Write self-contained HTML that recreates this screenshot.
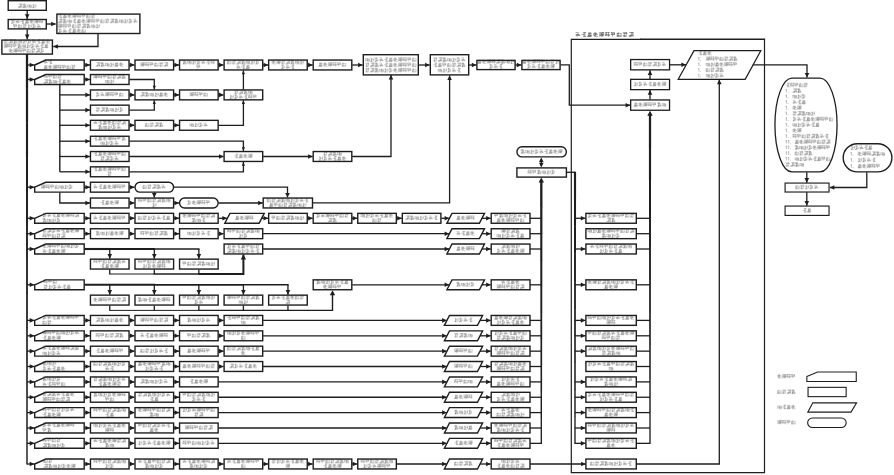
<!DOCTYPE html>
<html lang="zh"><head><meta charset="utf-8"><title>Production process flow chart</title>
<style>
html,body{margin:0;padding:0;background:#fff;width:894px;height:475px;overflow:hidden;font-family:"Liberation Sans",sans-serif}
svg{display:block}
#chart rect,#chart polygon{fill:#fff;stroke:#1e1e1e}
#chart polyline{stroke:#1e1e1e}
#chart polygon.a{fill:#1e1e1e;stroke:none}
#chart g.b use{stroke-opacity:.55}
#chart path.d{fill:none;stroke:#333;stroke-width:.6;stroke-opacity:.55}
#chart use{fill:none;stroke:#333;stroke-width:.7;stroke-opacity:.34}
svg{filter:blur(.3px)}
</style></head><body>
<svg width="894" height="475" viewBox="0 0 894 475">
<defs><g class="t"><path id="g0" d="M0.1 3.0H4.3M0.1 3.9H2.8M0.6 0.3H4.3M2.3 0.0V3.4M3.2 0.0V3.4M4.0 0.0V4.2M1.2 4.1L2.4 2.2"/><path id="g1" d="M0.1 3.9H3.6M1.6 2.1H4.3M0.6 1.2H2.8M4.0 0.0V3.4M1.4 0.0V4.2M1.2 4.1L1.8 2.2"/><path id="g2" d="M1.6 3.9H4.3M0.1 2.1H2.8M1.6 0.3H4.3M3.2 0.0V4.2M2.3 0.0V4.2"/><path id="g3" d="M0.1 1.2H2.8M0.1 0.3H4.3M0.1 2.1H4.3M0.1 3.0H4.3M3.2 0.0V4.2M2.3 0.8V4.2M4.0 0.0V2.6M0.3 4.1L1.8 2.2"/><path id="g4" d="M0.1 1.2H4.3M0.1 3.9H4.3M0.1 3.0H3.6M0.4 0.8V4.2M1.4 0.0V3.4M4.0 1.6V3.4"/><path id="g5" d="M0.1 3.9H4.3M0.1 0.3H2.8M0.6 3.0H4.3M0.1 1.2H2.8M2.3 0.0V2.6M1.4 0.0V4.2M3.2 0.8V3.4M1.2 4.1L1.8 2.2"/><path id="g6" d="M0.6 0.3H2.8M1.6 3.0H3.6M0.1 3.9H2.8M0.6 1.2H2.8M1.4 0.0V4.2M3.2 0.8V3.4M0.3 4.1L2.4 2.2"/><path id="g7" d="M0.1 3.9H3.6M0.6 3.0H4.3M0.6 1.2H3.6M1.4 0.0V4.2M3.2 0.0V4.2M2.3 0.0V4.2M0.3 4.1L1.8 1.5"/><path id="g8" d="M0.6 0.3H4.3M0.1 3.0H4.3M0.6 2.1H4.3M3.2 0.0V4.2M1.4 0.0V2.6M0.4 0.0V3.4"/><path id="g9" d="M0.6 1.2H4.3M0.1 3.0H2.8M0.6 3.9H2.8M0.1 0.3H3.6M1.4 0.8V4.2M3.2 0.0V4.2"/><path id="g10" d="M1.6 3.9H3.6M0.1 1.2H4.3M0.1 3.0H4.3M1.6 2.1H4.3M4.0 1.6V4.2M0.4 0.8V3.4M2.3 0.8V3.4"/><path id="g11" d="M0.1 2.1H2.8M0.1 3.0H4.3M0.1 0.3H2.8M3.2 1.6V3.4M1.4 1.6V4.2M2.3 0.8V2.6"/><path id="g12" d="M1.6 3.9H4.3M1.6 2.1H4.3M0.1 3.0H2.8M0.6 1.2H3.6M1.4 0.0V4.2M2.3 0.0V2.6M0.4 0.8V2.6"/><path id="g13" d="M0.1 2.1H3.6M0.1 0.3H3.6M1.6 1.2H3.6M1.4 0.8V2.6M3.2 0.8V2.6M0.4 0.0V2.6M1.2 4.1L1.8 2.2"/></g></defs>
<title>生产工艺流程图</title>
<desc>生产指令 → 物料准备 → 框体(FRAME)、液路配管(TUBE)、配线(ELEC)、RTDB、CEL、FF、SPEC、SP、RP1、RP2、HOST、PMT、CR2、CFS、RPS、BF、COVER 各模块 → 调试检查 → 粘贴追溯标识 → 中间品（模块）检验 → 放入模块货架 → 总成（框体与各模块）→ 调试 → 整机检验 → 包装及标识 → 入库。图例：模块名称、组装活动、调试活动、检验活动</desc>
<rect x="0" y="0" width="894" height="475" fill="#fff" stroke="none"/>
<g id="chart">
<rect x="8.20" y="0.70" width="38.10" height="9.60" stroke-width="1.4"/>
<use href="#g0" x="17.89" y="3.80"/><use href="#g5" x="22.57" y="3.80"/><use href="#g10" x="27.25" y="3.80"/><use href="#g1" x="31.93" y="3.80"/>
<polyline points="27.20,10.50 27.20,18.90" stroke-width="1.3" fill="none"/>
<polygon class="a" points="27.20,18.90 24.90,14.30 29.50,14.30"/>
<rect x="8.20" y="19.50" width="38.10" height="9.40" stroke-width="1.4"/>
<use href="#g6" x="10.87" y="19.35"/><use href="#g11" x="15.55" y="19.35"/><use href="#g2" x="20.23" y="19.35"/><use href="#g7" x="24.91" y="19.35"/><use href="#g12" x="29.59" y="19.35"/><use href="#g3" x="34.27" y="19.35"/><use href="#g8" x="38.95" y="19.35"/>
<use href="#g13" x="13.21" y="24.05"/><use href="#g4" x="17.89" y="24.05"/><use href="#g9" x="22.57" y="24.05"/><use href="#g1" x="27.25" y="24.05"/><use href="#g6" x="31.93" y="24.05"/><use href="#g11" x="36.61" y="24.05"/>
<polyline points="46.50,24.00 55.70,24.00" stroke-width="1.3" fill="none"/>
<polygon class="a" points="55.70,24.00 51.10,21.70 51.10,26.30"/>
<rect x="56.90" y="14.10" width="83.00" height="19.40" stroke-width="1.4"/>
<use href="#g2" x="58.00" y="13.80"/><use href="#g7" x="62.70" y="13.80"/><use href="#g12" x="67.40" y="13.80"/><use href="#g3" x="72.10" y="13.80"/><use href="#g8" x="76.80" y="13.80"/><use href="#g13" x="81.50" y="13.80"/><use href="#g4" x="86.20" y="13.80"/><use href="#g9" x="90.90" y="13.80"/>
<use href="#g0" x="58.00" y="18.90"/><use href="#g5" x="62.70" y="18.90"/><use href="#g10" x="67.40" y="18.90"/><use href="#g2" x="72.10" y="18.90"/><use href="#g7" x="76.80" y="18.90"/><use href="#g12" x="81.50" y="18.90"/><use href="#g3" x="86.20" y="18.90"/><use href="#g8" x="90.90" y="18.90"/><use href="#g13" x="95.60" y="18.90"/><use href="#g4" x="100.30" y="18.90"/><use href="#g9" x="105.00" y="18.90"/><use href="#g0" x="109.70" y="18.90"/><use href="#g5" x="114.40" y="18.90"/><use href="#g10" x="119.10" y="18.90"/><use href="#g1" x="123.80" y="18.90"/><use href="#g6" x="128.50" y="18.90"/><use href="#g11" x="133.20" y="18.90"/>
<use href="#g3" x="58.00" y="23.90"/><use href="#g8" x="62.70" y="23.90"/><use href="#g13" x="67.40" y="23.90"/><use href="#g4" x="72.10" y="23.90"/><use href="#g9" x="76.80" y="23.90"/><use href="#g0" x="81.50" y="23.90"/><use href="#g5" x="86.20" y="23.90"/><use href="#g10" x="90.90" y="23.90"/><use href="#g1" x="95.60" y="23.90"/>
<use href="#g6" x="58.00" y="28.70"/><use href="#g11" x="62.70" y="28.70"/><use href="#g2" x="67.40" y="28.70"/><use href="#g7" x="72.10" y="28.70"/><use href="#g12" x="76.80" y="28.70"/><use href="#g4" x="81.50" y="28.70"/>
<polyline points="27.20,29.20 27.20,39.20" stroke-width="1.3" fill="none"/>
<polygon class="a" points="27.20,39.20 24.90,34.60 29.50,34.60"/>
<rect x="1.90" y="40.10" width="50.50" height="14.00" stroke-width="1.4"/>
<use href="#g9" x="3.70" y="39.20"/><use href="#g0" x="8.38" y="39.20"/><use href="#g5" x="13.06" y="39.20"/><use href="#g10" x="17.74" y="39.20"/><use href="#g1" x="22.42" y="39.20"/><use href="#g6" x="27.10" y="39.20"/><use href="#g11" x="31.78" y="39.20"/><use href="#g2" x="36.46" y="39.20"/><use href="#g7" x="41.14" y="39.20"/><use href="#g12" x="45.82" y="39.20"/>
<use href="#g3" x="3.70" y="43.80"/><use href="#g8" x="8.20" y="43.80"/><use href="#g13" x="12.70" y="43.80"/><use href="#g5" x="17.20" y="43.80"/><use href="#g10" x="21.70" y="43.80"/><use href="#g1" x="26.20" y="43.80"/><use href="#g6" x="30.70" y="43.80"/><use href="#g11" x="35.20" y="43.80"/><use href="#g2" x="39.70" y="43.80"/><use href="#g7" x="44.20" y="43.80"/>
<use href="#g12" x="8.80" y="48.50"/><use href="#g3" x="13.25" y="48.50"/><use href="#g8" x="17.70" y="48.50"/><use href="#g13" x="22.15" y="48.50"/><use href="#g4" x="26.60" y="48.50"/><use href="#g9" x="31.05" y="48.50"/><use href="#g0" x="35.50" y="48.50"/><use href="#g6" x="39.95" y="48.50"/>
<polyline points="98.00,33.50 98.00,46.50 53.30,46.50" stroke-width="1.3" fill="none"/>
<polygon class="a" points="53.30,46.50 57.90,44.20 57.90,48.80"/>
<polyline points="27.00,54.00 27.00,88.62" stroke-width="2.26" fill="none"/>
<polyline points="27.00,88.22 27.00,122.83" stroke-width="2.19" fill="none"/>
<polyline points="27.00,122.43 27.00,157.05" stroke-width="2.11" fill="none"/>
<polyline points="27.00,156.65 27.00,191.27" stroke-width="2.04" fill="none"/>
<polyline points="27.00,190.87 27.00,225.48" stroke-width="1.96" fill="none"/>
<polyline points="27.00,225.08 27.00,259.70" stroke-width="1.89" fill="none"/>
<polyline points="27.00,259.30 27.00,293.92" stroke-width="1.81" fill="none"/>
<polyline points="27.00,293.52 27.00,328.13" stroke-width="1.74" fill="none"/>
<polyline points="27.00,327.73 27.00,362.35" stroke-width="1.66" fill="none"/>
<polyline points="27.00,361.95 27.00,396.57" stroke-width="1.59" fill="none"/>
<polyline points="27.00,396.17 27.00,430.78" stroke-width="1.51" fill="none"/>
<polyline points="27.00,430.38 27.00,464.60" stroke-width="1.44" fill="none"/>
<polyline points="27.00,65.00 34.30,65.00" stroke-width="1.3" fill="none"/>
<polygon class="a" points="34.30,65.00 29.70,62.70 29.70,67.30"/>
<polygon points="34.70,65.00 45.80,60.05 84.20,60.05 84.20,69.95 34.70,69.95" stroke-width="1.4"/>
<use href="#g11" x="43.60" y="59.65"/><use href="#g2" x="48.20" y="59.65"/>
<use href="#g7" x="43.60" y="64.95"/><use href="#g12" x="48.20" y="64.95"/><use href="#g3" x="52.80" y="64.95"/><use href="#g8" x="57.40" y="64.95"/><use href="#g13" x="62.00" y="64.95"/><use href="#g4" x="66.60" y="64.95"/><use href="#g9" x="71.20" y="64.95"/>
<polyline points="84.60,65.00 89.95,65.00" stroke-width="1.3" fill="none"/>
<polygon class="a" points="89.95,65.00 85.35,62.70 85.35,67.30"/>
<rect x="90.45" y="60.05" width="38.60" height="9.90" stroke-width="1.4"/>
<use href="#g0" x="95.71" y="62.40"/><use href="#g5" x="100.39" y="62.40"/><use href="#g10" x="105.07" y="62.40"/><use href="#g1" x="109.75" y="62.40"/><use href="#g7" x="114.43" y="62.40"/><use href="#g12" x="119.11" y="62.40"/>
<rect x="135.00" y="60.05" width="38.60" height="9.90" stroke-width="1.4"/>
<use href="#g3" x="140.26" y="62.40"/><use href="#g8" x="144.94" y="62.40"/><use href="#g13" x="149.62" y="62.40"/><use href="#g4" x="154.30" y="62.40"/><use href="#g9" x="158.98" y="62.40"/><use href="#g0" x="163.66" y="62.40"/>
<rect x="179.55" y="60.05" width="38.60" height="9.90" stroke-width="1.4"/>
<use href="#g5" x="182.47" y="60.02"/><use href="#g10" x="187.15" y="60.02"/><use href="#g1" x="191.83" y="60.02"/><use href="#g6" x="196.51" y="60.02"/><use href="#g11" x="201.19" y="60.02"/><use href="#g2" x="205.87" y="60.02"/><use href="#g8" x="210.55" y="60.02"/>
<use href="#g13" x="196.51" y="64.78"/>
<rect x="224.10" y="60.05" width="38.60" height="9.90" stroke-width="1.4"/>
<use href="#g4" x="227.02" y="60.02"/><use href="#g9" x="231.70" y="60.02"/><use href="#g0" x="236.38" y="60.02"/><use href="#g5" x="241.06" y="60.02"/><use href="#g10" x="245.74" y="60.02"/><use href="#g1" x="250.42" y="60.02"/><use href="#g6" x="255.10" y="60.02"/>
<use href="#g11" x="236.38" y="64.78"/><use href="#g2" x="241.06" y="64.78"/><use href="#g7" x="245.74" y="64.78"/>
<rect x="268.65" y="60.05" width="38.60" height="9.90" stroke-width="1.4"/>
<use href="#g12" x="271.57" y="60.02"/><use href="#g3" x="276.25" y="60.02"/><use href="#g9" x="280.93" y="60.02"/><use href="#g0" x="285.61" y="60.02"/><use href="#g5" x="290.29" y="60.02"/><use href="#g10" x="294.97" y="60.02"/><use href="#g1" x="299.65" y="60.02"/>
<use href="#g6" x="280.93" y="64.78"/><use href="#g11" x="285.61" y="64.78"/><use href="#g2" x="290.29" y="64.78"/>
<rect x="313.20" y="60.05" width="38.60" height="9.90" stroke-width="1.4"/>
<use href="#g7" x="318.46" y="62.40"/><use href="#g12" x="323.14" y="62.40"/><use href="#g3" x="327.82" y="62.40"/><use href="#g8" x="332.50" y="62.40"/><use href="#g13" x="337.18" y="62.40"/><use href="#g4" x="341.86" y="62.40"/>
<polyline points="129.45,65.00 134.50,65.00" stroke-width="1.3" fill="none"/>
<polygon class="a" points="134.50,65.00 129.90,62.70 129.90,67.30"/>
<polyline points="174.00,65.00 179.05,65.00" stroke-width="1.3" fill="none"/>
<polygon class="a" points="179.05,65.00 174.45,62.70 174.45,67.30"/>
<polyline points="218.55,65.00 223.60,65.00" stroke-width="1.3" fill="none"/>
<polygon class="a" points="223.60,65.00 219.00,62.70 219.00,67.30"/>
<polyline points="263.10,65.00 268.15,65.00" stroke-width="1.3" fill="none"/>
<polygon class="a" points="268.15,65.00 263.55,62.70 263.55,67.30"/>
<polyline points="307.65,65.00 312.70,65.00" stroke-width="1.3" fill="none"/>
<polygon class="a" points="312.70,65.00 308.10,62.70 308.10,67.30"/>
<rect x="363.30" y="54.70" width="55.00" height="20.20" stroke-width="1.4"/>
<use href="#g10" x="365.20" y="57.50"/><use href="#g1" x="369.88" y="57.50"/><use href="#g6" x="374.56" y="57.50"/><use href="#g11" x="379.24" y="57.50"/><use href="#g2" x="383.92" y="57.50"/><use href="#g7" x="388.60" y="57.50"/><use href="#g12" x="393.28" y="57.50"/><use href="#g3" x="397.96" y="57.50"/><use href="#g8" x="402.64" y="57.50"/><use href="#g13" x="407.32" y="57.50"/><use href="#g4" x="412.00" y="57.50"/>
<use href="#g9" x="365.20" y="62.80"/><use href="#g0" x="369.88" y="62.80"/><use href="#g5" x="374.56" y="62.80"/><use href="#g11" x="379.24" y="62.80"/><use href="#g2" x="383.92" y="62.80"/><use href="#g7" x="388.60" y="62.80"/><use href="#g12" x="393.28" y="62.80"/><use href="#g3" x="397.96" y="62.80"/><use href="#g8" x="402.64" y="62.80"/><use href="#g13" x="407.32" y="62.80"/><use href="#g4" x="412.00" y="62.80"/>
<use href="#g9" x="365.20" y="68.10"/><use href="#g0" x="369.88" y="68.10"/><use href="#g5" x="374.56" y="68.10"/><use href="#g10" x="379.24" y="68.10"/><use href="#g1" x="383.92" y="68.10"/><use href="#g6" x="388.60" y="68.10"/><use href="#g12" x="393.28" y="68.10"/><use href="#g3" x="397.96" y="68.10"/><use href="#g8" x="402.64" y="68.10"/><use href="#g13" x="407.32" y="68.10"/><use href="#g4" x="412.00" y="68.10"/>
<polyline points="352.20,65.00 362.70,65.00" stroke-width="1.3" fill="none"/>
<polygon class="a" points="362.70,65.00 358.10,62.70 358.10,67.30"/>
<rect x="430.30" y="54.70" width="38.40" height="20.20" stroke-width="1.4"/>
<use href="#g9" x="433.12" y="57.50"/><use href="#g0" x="437.80" y="57.50"/><use href="#g5" x="442.48" y="57.50"/><use href="#g10" x="447.16" y="57.50"/><use href="#g1" x="451.84" y="57.50"/><use href="#g6" x="456.52" y="57.50"/><use href="#g11" x="461.20" y="57.50"/>
<use href="#g2" x="433.12" y="62.80"/><use href="#g7" x="437.80" y="62.80"/><use href="#g13" x="442.48" y="62.80"/><use href="#g4" x="447.16" y="62.80"/><use href="#g9" x="451.84" y="62.80"/><use href="#g0" x="456.52" y="62.80"/><use href="#g5" x="461.20" y="62.80"/>
<use href="#g10" x="437.80" y="68.10"/><use href="#g1" x="442.48" y="68.10"/><use href="#g6" x="447.16" y="68.10"/><use href="#g11" x="451.84" y="68.10"/><use href="#g2" x="456.52" y="68.10"/>
<polyline points="418.50,65.00 429.70,65.00" stroke-width="1.3" fill="none"/>
<polygon class="a" points="429.70,65.00 425.10,62.70 425.10,67.30"/>
<rect x="476.90" y="60.40" width="38.20" height="9.20" stroke-width="1.4"/>
<use href="#g7" x="477.28" y="59.43"/><use href="#g12" x="481.96" y="59.43"/><use href="#g3" x="486.64" y="59.43"/><use href="#g8" x="491.32" y="59.43"/><use href="#g0" x="496.00" y="59.43"/><use href="#g5" x="500.68" y="59.43"/><use href="#g10" x="505.36" y="59.43"/><use href="#g1" x="510.04" y="59.43"/>
<use href="#g6" x="488.98" y="64.18"/><use href="#g11" x="493.66" y="64.18"/><use href="#g2" x="498.34" y="64.18"/>
<polyline points="469.00,65.00 476.40,65.00" stroke-width="1.3" fill="none"/>
<polygon class="a" points="476.40,65.00 471.80,62.70 471.80,67.30"/>
<rect x="521.90" y="60.40" width="38.20" height="9.20" stroke-width="1.4"/>
<use href="#g7" x="522.28" y="59.43"/><use href="#g12" x="526.96" y="59.43"/><use href="#g3" x="531.64" y="59.43"/><use href="#g8" x="536.32" y="59.43"/><use href="#g13" x="541.00" y="59.43"/><use href="#g4" x="545.68" y="59.43"/><use href="#g9" x="550.36" y="59.43"/><use href="#g1" x="555.04" y="59.43"/>
<use href="#g6" x="526.96" y="64.18"/><use href="#g11" x="531.64" y="64.18"/><use href="#g2" x="536.32" y="64.18"/><use href="#g7" x="541.00" y="64.18"/><use href="#g12" x="545.68" y="64.18"/><use href="#g3" x="550.36" y="64.18"/>
<polyline points="515.50,65.00 521.40,65.00" stroke-width="1.3" fill="none"/>
<polygon class="a" points="521.40,65.00 516.80,62.70 516.80,67.30"/>
<polyline points="560.50,64.80 569.30,64.80 569.30,105.20 630.20,105.20" stroke-width="1.3" fill="none"/>
<polygon class="a" points="630.20,105.20 625.60,102.90 625.60,107.50"/>
<polyline points="27.00,79.50 34.30,79.50" stroke-width="1.3" fill="none"/>
<polygon class="a" points="34.30,79.50 29.70,77.20 29.70,81.80"/>
<polygon points="34.70,79.50 45.80,74.55 84.20,74.55 84.20,84.45 34.70,84.45" stroke-width="1.4"/>
<use href="#g8" x="43.60" y="74.15"/><use href="#g13" x="48.20" y="74.15"/><use href="#g4" x="52.80" y="74.15"/><use href="#g9" x="57.40" y="74.15"/>
<use href="#g0" x="43.60" y="79.45"/><use href="#g5" x="48.20" y="79.45"/><use href="#g10" x="52.80" y="79.45"/><use href="#g2" x="57.40" y="79.45"/><use href="#g7" x="62.00" y="79.45"/><use href="#g12" x="66.60" y="79.45"/>
<polyline points="84.60,79.50 89.95,79.50" stroke-width="1.3" fill="none"/>
<polygon class="a" points="89.95,79.50 85.35,77.20 85.35,81.80"/>
<polyline points="59.80,84.40 59.80,171.80" stroke-width="1.4" fill="none"/>
<polyline points="59.80,94.90 89.95,94.90" stroke-width="1.3" fill="none"/>
<polygon class="a" points="89.95,94.90 85.35,92.60 85.35,97.20"/>
<polyline points="59.80,110.10 89.95,110.10" stroke-width="1.3" fill="none"/>
<polygon class="a" points="89.95,110.10 85.35,107.80 85.35,112.40"/>
<polyline points="59.80,125.30 89.95,125.30" stroke-width="1.3" fill="none"/>
<polygon class="a" points="89.95,125.30 85.35,123.00 85.35,127.60"/>
<polyline points="59.80,141.20 89.95,141.20" stroke-width="1.3" fill="none"/>
<polygon class="a" points="89.95,141.20 85.35,138.90 85.35,143.50"/>
<polyline points="59.80,156.50 89.95,156.50" stroke-width="1.3" fill="none"/>
<polygon class="a" points="89.95,156.50 85.35,154.20 85.35,158.80"/>
<polyline points="59.80,171.80 89.95,171.80" stroke-width="1.3" fill="none"/>
<polygon class="a" points="89.95,171.80 85.35,169.50 85.35,174.10"/>
<rect x="90.45" y="74.55" width="38.60" height="9.90" stroke-width="1.4"/>
<use href="#g3" x="93.37" y="74.53"/><use href="#g8" x="98.05" y="74.53"/><use href="#g13" x="102.73" y="74.53"/><use href="#g4" x="107.41" y="74.53"/><use href="#g9" x="112.09" y="74.53"/><use href="#g0" x="116.77" y="74.53"/><use href="#g5" x="121.45" y="74.53"/>
<use href="#g10" x="105.07" y="79.28"/><use href="#g1" x="109.75" y="79.28"/>
<rect x="90.45" y="89.95" width="38.60" height="9.90" stroke-width="1.4"/>
<use href="#g6" x="95.71" y="92.30"/><use href="#g11" x="100.39" y="92.30"/><use href="#g3" x="105.07" y="92.30"/><use href="#g8" x="109.75" y="92.30"/><use href="#g13" x="114.43" y="92.30"/><use href="#g4" x="119.11" y="92.30"/>
<rect x="90.45" y="105.15" width="38.60" height="9.90" stroke-width="1.4"/>
<use href="#g9" x="95.71" y="107.50"/><use href="#g0" x="100.39" y="107.50"/><use href="#g5" x="105.07" y="107.50"/><use href="#g10" x="109.75" y="107.50"/><use href="#g1" x="114.43" y="107.50"/><use href="#g6" x="119.11" y="107.50"/>
<rect x="90.45" y="120.35" width="38.60" height="9.90" stroke-width="1.4"/>
<use href="#g11" x="93.37" y="120.32"/><use href="#g2" x="98.05" y="120.32"/><use href="#g7" x="102.73" y="120.32"/><use href="#g12" x="107.41" y="120.32"/><use href="#g4" x="112.09" y="120.32"/><use href="#g9" x="116.77" y="120.32"/><use href="#g0" x="121.45" y="120.32"/>
<use href="#g5" x="98.05" y="125.07"/><use href="#g10" x="102.73" y="125.07"/><use href="#g1" x="107.41" y="125.07"/><use href="#g6" x="112.09" y="125.07"/><use href="#g11" x="116.77" y="125.07"/>
<rect x="90.45" y="136.25" width="38.60" height="9.90" stroke-width="1.4"/>
<use href="#g2" x="93.37" y="136.22"/><use href="#g7" x="98.05" y="136.22"/><use href="#g12" x="102.73" y="136.22"/><use href="#g3" x="107.41" y="136.22"/><use href="#g8" x="112.09" y="136.22"/><use href="#g13" x="116.77" y="136.22"/><use href="#g5" x="121.45" y="136.22"/>
<use href="#g10" x="100.39" y="140.97"/><use href="#g1" x="105.07" y="140.97"/><use href="#g6" x="109.75" y="140.97"/><use href="#g11" x="114.43" y="140.97"/>
<rect x="90.45" y="151.55" width="38.60" height="9.90" stroke-width="1.4"/>
<use href="#g2" x="93.37" y="151.53"/><use href="#g7" x="98.05" y="151.53"/><use href="#g12" x="102.73" y="151.53"/><use href="#g3" x="107.41" y="151.53"/><use href="#g8" x="112.09" y="151.53"/><use href="#g13" x="116.77" y="151.53"/><use href="#g4" x="121.45" y="151.53"/>
<use href="#g9" x="100.39" y="156.28"/><use href="#g0" x="105.07" y="156.28"/><use href="#g6" x="109.75" y="156.28"/><use href="#g11" x="114.43" y="156.28"/>
<rect x="90.45" y="166.85" width="38.60" height="9.90" stroke-width="1.4"/>
<use href="#g2" x="93.37" y="166.83"/><use href="#g7" x="98.05" y="166.83"/><use href="#g12" x="102.73" y="166.83"/><use href="#g3" x="107.41" y="166.83"/><use href="#g8" x="112.09" y="166.83"/><use href="#g13" x="116.77" y="166.83"/><use href="#g4" x="121.45" y="166.83"/>
<use href="#g9" x="107.41" y="171.58"/>
<rect x="135.00" y="89.95" width="38.60" height="9.90" stroke-width="1.4"/>
<use href="#g0" x="140.26" y="92.30"/><use href="#g5" x="144.94" y="92.30"/><use href="#g10" x="149.62" y="92.30"/><use href="#g1" x="154.30" y="92.30"/><use href="#g7" x="158.98" y="92.30"/><use href="#g12" x="163.66" y="92.30"/>
<rect x="179.55" y="89.95" width="38.60" height="9.90" stroke-width="1.4"/>
<use href="#g3" x="189.49" y="92.30"/><use href="#g8" x="194.17" y="92.30"/><use href="#g13" x="198.85" y="92.30"/><use href="#g4" x="203.53" y="92.30"/>
<rect x="224.10" y="89.95" width="38.60" height="9.90" stroke-width="1.4"/>
<use href="#g9" x="234.04" y="89.93"/><use href="#g0" x="238.72" y="89.93"/><use href="#g5" x="243.40" y="89.93"/><use href="#g10" x="248.08" y="89.93"/>
<use href="#g1" x="229.36" y="94.68"/><use href="#g6" x="234.04" y="94.68"/><use href="#g11" x="238.72" y="94.68"/><use href="#g2" x="243.40" y="94.68"/><use href="#g8" x="248.08" y="94.68"/><use href="#g13" x="252.76" y="94.68"/>
<polyline points="129.45,94.90 134.50,94.90" stroke-width="1.3" fill="none"/>
<polygon class="a" points="134.50,94.90 129.90,92.60 129.90,97.20"/>
<polyline points="174.00,94.90 179.05,94.90" stroke-width="1.3" fill="none"/>
<polygon class="a" points="179.05,94.90 174.45,92.60 174.45,97.20"/>
<polyline points="218.55,94.90 223.60,94.90" stroke-width="1.3" fill="none"/>
<polygon class="a" points="223.60,94.90 219.00,92.60 219.00,97.20"/>
<polyline points="129.45,79.50 154.30,79.50 154.30,89.45" stroke-width="1.3" fill="none"/>
<polygon class="a" points="154.30,89.45 152.70,85.75 155.90,85.75"/>
<polyline points="129.45,110.10 154.30,110.10 154.30,100.35" stroke-width="1.3" fill="none"/>
<polygon class="a" points="154.30,100.35 152.70,104.05 155.90,104.05"/>
<polyline points="243.40,89.55 243.40,70.45" stroke-width="1.3" fill="none"/>
<polygon class="a" points="243.40,70.45 241.80,74.15 245.00,74.15"/>
<rect x="135.00" y="120.35" width="38.60" height="9.90" stroke-width="1.4"/>
<use href="#g4" x="144.94" y="122.70"/><use href="#g9" x="149.62" y="122.70"/><use href="#g0" x="154.30" y="122.70"/><use href="#g5" x="158.98" y="122.70"/>
<rect x="179.55" y="120.35" width="38.60" height="9.90" stroke-width="1.4"/>
<use href="#g10" x="189.49" y="122.70"/><use href="#g1" x="194.17" y="122.70"/><use href="#g6" x="198.85" y="122.70"/><use href="#g11" x="203.53" y="122.70"/>
<polyline points="129.45,125.30 134.50,125.30" stroke-width="1.3" fill="none"/>
<polygon class="a" points="134.50,125.30 129.90,123.00 129.90,127.60"/>
<polyline points="174.00,125.30 179.05,125.30" stroke-width="1.3" fill="none"/>
<polygon class="a" points="179.05,125.30 174.45,123.00 174.45,127.60"/>
<polyline points="218.55,125.30 243.40,125.30 243.40,100.35" stroke-width="1.3" fill="none"/>
<polygon class="a" points="243.40,100.35 241.80,104.05 245.00,104.05"/>
<polyline points="129.45,141.20 243.40,141.20 243.40,151.05" stroke-width="1.3" fill="none"/>
<polygon class="a" points="243.40,151.05 241.80,147.35 245.00,147.35"/>
<rect x="224.10" y="151.55" width="38.60" height="9.90" stroke-width="1.4"/>
<use href="#g2" x="234.04" y="153.90"/><use href="#g7" x="238.72" y="153.90"/><use href="#g12" x="243.40" y="153.90"/><use href="#g3" x="248.08" y="153.90"/>
<rect x="313.20" y="151.55" width="38.60" height="9.90" stroke-width="1.4"/>
<use href="#g9" x="323.14" y="151.53"/><use href="#g0" x="327.82" y="151.53"/><use href="#g5" x="332.50" y="151.53"/><use href="#g10" x="337.18" y="151.53"/>
<use href="#g1" x="318.46" y="156.28"/><use href="#g6" x="323.14" y="156.28"/><use href="#g11" x="327.82" y="156.28"/><use href="#g2" x="332.50" y="156.28"/><use href="#g7" x="337.18" y="156.28"/><use href="#g12" x="341.86" y="156.28"/>
<polyline points="129.45,156.50 223.60,156.50" stroke-width="1.3" fill="none"/>
<polygon class="a" points="223.60,156.50 219.00,154.20 219.00,158.80"/>
<polyline points="263.10,156.50 312.70,156.50" stroke-width="1.3" fill="none"/>
<polygon class="a" points="312.70,156.50 308.10,154.20 308.10,158.80"/>
<polyline points="129.45,171.80 243.40,171.80 243.40,161.95" stroke-width="1.3" fill="none"/>
<polygon class="a" points="243.40,161.95 241.80,165.65 245.00,165.65"/>
<polyline points="352.20,156.50 391.00,156.50 391.00,75.00" stroke-width="1.3" fill="none"/>
<polygon class="a" points="391.00,75.00 388.70,79.60 393.30,79.60"/>
<polyline points="27.00,187.20 34.30,187.20" stroke-width="1.3" fill="none"/>
<polygon class="a" points="34.30,187.20 29.70,184.90 29.70,189.50"/>
<polygon points="34.70,187.20 45.80,182.25 84.20,182.25 84.20,192.15 34.70,192.15" stroke-width="1.4"/>
<use href="#g3" x="41.00" y="184.70"/><use href="#g8" x="45.60" y="184.70"/><use href="#g13" x="50.20" y="184.70"/><use href="#g4" x="54.80" y="184.70"/><use href="#g10" x="59.40" y="184.70"/><use href="#g1" x="64.00" y="184.70"/><use href="#g6" x="68.60" y="184.70"/>
<polyline points="84.60,187.20 89.95,187.20" stroke-width="1.3" fill="none"/>
<polygon class="a" points="89.95,187.20 85.35,184.90 85.35,189.50"/>
<rect x="90.45" y="182.25" width="38.60" height="9.90" stroke-width="1.4"/>
<use href="#g11" x="93.37" y="184.60"/><use href="#g2" x="98.05" y="184.60"/><use href="#g7" x="102.73" y="184.60"/><use href="#g12" x="107.41" y="184.60"/><use href="#g3" x="112.09" y="184.60"/><use href="#g8" x="116.77" y="184.60"/><use href="#g13" x="121.45" y="184.60"/>
<rect x="135.00" y="182.25" width="38.60" height="9.90" rx="4.9500000000000055" stroke-width="1.4"/>
<use href="#g4" x="142.60" y="184.60"/><use href="#g9" x="147.28" y="184.60"/><use href="#g0" x="151.96" y="184.60"/><use href="#g5" x="156.64" y="184.60"/><use href="#g11" x="161.32" y="184.60"/>
<polyline points="129.45,187.20 134.50,187.20" stroke-width="1.3" fill="none"/>
<polygon class="a" points="134.50,187.20 129.90,184.90 129.90,189.50"/>
<polyline points="174.00,187.20 287.50,187.20 287.50,197.55" stroke-width="1.3" fill="none"/>
<polygon class="a" points="287.50,197.55 285.20,192.95 289.80,192.95"/>
<polyline points="154.30,192.55 154.30,197.55" stroke-width="1.3" fill="none"/>
<polygon class="a" points="154.30,197.55 152.00,192.95 156.60,192.95"/>
<polyline points="59.80,192.55 59.80,203.00 89.95,203.00" stroke-width="1.3" fill="none"/>
<polygon class="a" points="89.95,203.00 85.35,200.70 85.35,205.30"/>
<rect x="90.45" y="198.05" width="38.60" height="9.90" stroke-width="1.4"/>
<use href="#g2" x="100.39" y="200.40"/><use href="#g7" x="105.07" y="200.40"/><use href="#g12" x="109.75" y="200.40"/><use href="#g3" x="114.43" y="200.40"/>
<rect x="135.00" y="198.05" width="38.60" height="9.90" stroke-width="1.4"/>
<use href="#g8" x="137.92" y="198.03"/><use href="#g13" x="142.60" y="198.03"/><use href="#g4" x="147.28" y="198.03"/><use href="#g9" x="151.96" y="198.03"/><use href="#g0" x="156.64" y="198.03"/><use href="#g5" x="161.32" y="198.03"/><use href="#g10" x="166.00" y="198.03"/>
<use href="#g1" x="151.96" y="202.78"/>
<polyline points="129.45,203.00 134.50,203.00" stroke-width="1.3" fill="none"/>
<polygon class="a" points="134.50,203.00 129.90,200.70 129.90,205.30"/>
<polyline points="174.00,203.00 179.05,203.00" stroke-width="1.3" fill="none"/>
<polygon class="a" points="179.05,203.00 174.45,200.70 174.45,205.30"/>
<rect x="179.55" y="198.05" width="38.60" height="9.90" rx="4.9500000000000055" stroke-width="1.4"/>
<use href="#g6" x="187.15" y="200.40"/><use href="#g12" x="191.83" y="200.40"/><use href="#g3" x="196.51" y="200.40"/><use href="#g8" x="201.19" y="200.40"/><use href="#g13" x="205.87" y="200.40"/>
<rect x="263.20" y="198.05" width="49.30" height="9.90" stroke-width="1.4"/>
<use href="#g4" x="266.79" y="198.03"/><use href="#g9" x="271.47" y="198.03"/><use href="#g0" x="276.15" y="198.03"/><use href="#g5" x="280.83" y="198.03"/><use href="#g10" x="285.51" y="198.03"/><use href="#g1" x="290.19" y="198.03"/><use href="#g6" x="294.87" y="198.03"/><use href="#g11" x="299.55" y="198.03"/><use href="#g2" x="304.23" y="198.03"/>
<use href="#g7" x="269.13" y="202.78"/><use href="#g13" x="273.81" y="202.78"/><use href="#g4" x="278.49" y="202.78"/><use href="#g9" x="283.17" y="202.78"/><use href="#g0" x="287.85" y="202.78"/><use href="#g5" x="292.53" y="202.78"/><use href="#g10" x="297.21" y="202.78"/><use href="#g1" x="301.89" y="202.78"/>
<polyline points="218.55,203.00 262.70,203.00" stroke-width="1.3" fill="none"/>
<polygon class="a" points="262.70,203.00 258.10,200.70 258.10,205.30"/>
<polyline points="313.00,202.90 449.60,202.90 449.60,75.40" stroke-width="1.3" fill="none"/>
<polygon class="a" points="449.60,75.40 447.30,80.00 451.90,80.00"/>
<polyline points="27.00,218.30 34.30,218.30" stroke-width="1.3" fill="none"/>
<polygon class="a" points="34.30,218.30 29.70,216.00 29.70,220.60"/>
<polygon points="34.70,218.30 45.80,213.35 84.20,213.35 84.20,223.25 34.70,223.25" stroke-width="1.4"/>
<use href="#g6" x="42.50" y="212.95"/><use href="#g11" x="47.10" y="212.95"/><use href="#g2" x="51.70" y="212.95"/><use href="#g7" x="56.30" y="212.95"/><use href="#g12" x="60.90" y="212.95"/><use href="#g3" x="65.50" y="212.95"/><use href="#g8" x="70.10" y="212.95"/><use href="#g0" x="74.70" y="212.95"/>
<use href="#g5" x="42.50" y="218.25"/><use href="#g10" x="47.10" y="218.25"/><use href="#g1" x="51.70" y="218.25"/><use href="#g6" x="56.30" y="218.25"/>
<polyline points="84.60,218.30 89.95,218.30" stroke-width="1.3" fill="none"/>
<polygon class="a" points="89.95,218.30 85.35,216.00 85.35,220.60"/>
<rect x="90.45" y="213.35" width="38.60" height="9.90" stroke-width="1.4"/>
<use href="#g11" x="93.37" y="215.70"/><use href="#g2" x="98.05" y="215.70"/><use href="#g7" x="102.73" y="215.70"/><use href="#g12" x="107.41" y="215.70"/><use href="#g3" x="112.09" y="215.70"/><use href="#g8" x="116.77" y="215.70"/><use href="#g13" x="121.45" y="215.70"/>
<rect x="135.00" y="213.35" width="38.60" height="9.90" stroke-width="1.4"/>
<use href="#g4" x="137.92" y="215.70"/><use href="#g9" x="142.60" y="215.70"/><use href="#g1" x="147.28" y="215.70"/><use href="#g6" x="151.96" y="215.70"/><use href="#g11" x="156.64" y="215.70"/><use href="#g2" x="161.32" y="215.70"/><use href="#g7" x="166.00" y="215.70"/>
<rect x="179.55" y="213.35" width="38.60" height="9.90" stroke-width="1.4"/>
<use href="#g12" x="182.47" y="213.33"/><use href="#g3" x="187.15" y="213.33"/><use href="#g8" x="191.83" y="213.33"/><use href="#g13" x="196.51" y="213.33"/><use href="#g4" x="201.19" y="213.33"/><use href="#g9" x="205.87" y="213.33"/><use href="#g0" x="210.55" y="213.33"/>
<use href="#g5" x="191.83" y="218.08"/><use href="#g10" x="196.51" y="218.08"/><use href="#g2" x="201.19" y="218.08"/>
<polygon points="229.90,213.35 264.20,213.35 259.10,223.25 224.80,223.25" stroke-width="1.4"/>
<use href="#g7" x="235.14" y="215.70"/><use href="#g12" x="239.82" y="215.70"/><use href="#g3" x="244.50" y="215.70"/><use href="#g8" x="249.18" y="215.70"/>
<rect x="268.65" y="213.35" width="38.60" height="9.90" stroke-width="1.4"/>
<use href="#g13" x="271.57" y="215.70"/><use href="#g4" x="276.25" y="215.70"/><use href="#g9" x="280.93" y="215.70"/><use href="#g0" x="285.61" y="215.70"/><use href="#g5" x="290.29" y="215.70"/><use href="#g10" x="294.97" y="215.70"/><use href="#g1" x="299.65" y="215.70"/>
<rect x="313.20" y="213.35" width="38.60" height="9.90" stroke-width="1.4"/>
<use href="#g6" x="316.12" y="213.33"/><use href="#g11" x="320.80" y="213.33"/><use href="#g3" x="325.48" y="213.33"/><use href="#g8" x="330.16" y="213.33"/><use href="#g13" x="334.84" y="213.33"/><use href="#g4" x="339.52" y="213.33"/><use href="#g9" x="344.20" y="213.33"/>
<use href="#g0" x="327.82" y="218.08"/><use href="#g5" x="332.50" y="218.08"/>
<rect x="357.75" y="213.35" width="38.60" height="9.90" stroke-width="1.4"/>
<use href="#g10" x="360.67" y="213.33"/><use href="#g1" x="365.35" y="213.33"/><use href="#g6" x="370.03" y="213.33"/><use href="#g11" x="374.71" y="213.33"/><use href="#g2" x="379.39" y="213.33"/><use href="#g7" x="384.07" y="213.33"/><use href="#g12" x="388.75" y="213.33"/>
<use href="#g4" x="372.37" y="218.08"/><use href="#g9" x="377.05" y="218.08"/>
<rect x="402.30" y="213.35" width="38.60" height="9.90" stroke-width="1.4"/>
<use href="#g0" x="405.22" y="215.70"/><use href="#g5" x="409.90" y="215.70"/><use href="#g10" x="414.58" y="215.70"/><use href="#g1" x="419.26" y="215.70"/><use href="#g6" x="423.94" y="215.70"/><use href="#g11" x="428.62" y="215.70"/><use href="#g2" x="433.30" y="215.70"/>
<polyline points="129.45,218.30 134.50,218.30" stroke-width="1.3" fill="none"/>
<polygon class="a" points="134.50,218.30 129.90,216.00 129.90,220.60"/>
<polyline points="174.00,218.30 179.05,218.30" stroke-width="1.3" fill="none"/>
<polygon class="a" points="179.05,218.30 174.45,216.00 174.45,220.60"/>
<polyline points="218.55,218.30 227.00,218.30" stroke-width="1.3" fill="none"/>
<polygon class="a" points="227.00,218.30 222.40,216.00 222.40,220.60"/>
<polyline points="261.20,218.30 268.15,218.30" stroke-width="1.3" fill="none"/>
<polygon class="a" points="268.15,218.30 263.55,216.00 263.55,220.60"/>
<polyline points="307.65,218.30 312.70,218.30" stroke-width="1.3" fill="none"/>
<polygon class="a" points="312.70,218.30 308.10,216.00 308.10,220.60"/>
<polyline points="352.20,218.30 357.25,218.30" stroke-width="1.3" fill="none"/>
<polygon class="a" points="357.25,218.30 352.65,216.00 352.65,220.60"/>
<polyline points="396.75,218.30 401.80,218.30" stroke-width="1.3" fill="none"/>
<polygon class="a" points="401.80,218.30 397.20,216.00 397.20,220.60"/>
<polyline points="441.30,218.30 449.20,218.30" stroke-width="1.3" fill="none"/>
<polygon class="a" points="449.20,218.30 444.60,216.00 444.60,220.60"/>
<polygon points="452.00,213.35 484.50,213.35 479.40,223.25 446.90,223.25" stroke-width="1.4"/>
<use href="#g7" x="456.34" y="215.70"/><use href="#g12" x="461.02" y="215.70"/><use href="#g3" x="465.70" y="215.70"/><use href="#g8" x="470.38" y="215.70"/>
<polyline points="482.00,218.30 490.70,218.30" stroke-width="1.3" fill="none"/>
<polygon class="a" points="490.70,218.30 486.10,216.00 486.10,220.60"/>
<rect x="491.20" y="213.35" width="38.80" height="9.90" stroke-width="1.4"/>
<use href="#g13" x="494.22" y="213.33"/><use href="#g5" x="498.90" y="213.33"/><use href="#g10" x="503.58" y="213.33"/><use href="#g1" x="508.26" y="213.33"/><use href="#g6" x="512.94" y="213.33"/><use href="#g11" x="517.62" y="213.33"/><use href="#g2" x="522.30" y="213.33"/>
<use href="#g7" x="496.56" y="218.08"/><use href="#g12" x="501.24" y="218.08"/><use href="#g3" x="505.92" y="218.08"/><use href="#g8" x="510.60" y="218.08"/><use href="#g13" x="515.28" y="218.08"/><use href="#g4" x="519.96" y="218.08"/>
<polyline points="530.00,218.30 541.20,218.30" stroke-width="1.3" fill="none"/>
<polyline points="27.00,233.70 34.30,233.70" stroke-width="1.3" fill="none"/>
<polygon class="a" points="34.30,233.70 29.70,231.40 29.70,236.00"/>
<polygon points="34.70,233.70 45.80,228.75 84.20,228.75 84.20,238.65 34.70,238.65" stroke-width="1.4"/>
<use href="#g9" x="42.50" y="228.35"/><use href="#g0" x="47.10" y="228.35"/><use href="#g6" x="51.70" y="228.35"/><use href="#g11" x="56.30" y="228.35"/><use href="#g2" x="60.90" y="228.35"/><use href="#g7" x="65.50" y="228.35"/><use href="#g12" x="70.10" y="228.35"/><use href="#g3" x="74.70" y="228.35"/>
<use href="#g8" x="42.50" y="233.65"/><use href="#g13" x="47.10" y="233.65"/><use href="#g4" x="51.70" y="233.65"/><use href="#g9" x="56.30" y="233.65"/><use href="#g0" x="60.90" y="233.65"/>
<polyline points="84.60,233.70 89.95,233.70" stroke-width="1.3" fill="none"/>
<polygon class="a" points="89.95,233.70 85.35,231.40 85.35,236.00"/>
<rect x="90.45" y="228.75" width="38.60" height="9.90" stroke-width="1.4"/>
<use href="#g5" x="95.71" y="231.10"/><use href="#g10" x="100.39" y="231.10"/><use href="#g1" x="105.07" y="231.10"/><use href="#g7" x="109.75" y="231.10"/><use href="#g12" x="114.43" y="231.10"/><use href="#g3" x="119.11" y="231.10"/>
<rect x="135.00" y="228.75" width="38.60" height="9.90" stroke-width="1.4"/>
<use href="#g8" x="140.26" y="231.10"/><use href="#g13" x="144.94" y="231.10"/><use href="#g4" x="149.62" y="231.10"/><use href="#g9" x="154.30" y="231.10"/><use href="#g0" x="158.98" y="231.10"/><use href="#g5" x="163.66" y="231.10"/>
<rect x="179.55" y="228.75" width="38.60" height="9.90" stroke-width="1.4"/>
<use href="#g10" x="187.15" y="231.10"/><use href="#g1" x="191.83" y="231.10"/><use href="#g6" x="196.51" y="231.10"/><use href="#g11" x="201.19" y="231.10"/><use href="#g2" x="205.87" y="231.10"/>
<rect x="224.10" y="228.75" width="38.60" height="9.90" stroke-width="1.4"/>
<use href="#g8" x="227.02" y="228.72"/><use href="#g13" x="231.70" y="228.72"/><use href="#g4" x="236.38" y="228.72"/><use href="#g9" x="241.06" y="228.72"/><use href="#g0" x="245.74" y="228.72"/><use href="#g5" x="250.42" y="228.72"/><use href="#g10" x="255.10" y="228.72"/>
<use href="#g1" x="238.72" y="233.47"/><use href="#g6" x="243.40" y="233.47"/>
<polyline points="129.45,233.70 134.50,233.70" stroke-width="1.3" fill="none"/>
<polygon class="a" points="134.50,233.70 129.90,231.40 129.90,236.00"/>
<polyline points="174.00,233.70 179.05,233.70" stroke-width="1.3" fill="none"/>
<polygon class="a" points="179.05,233.70 174.45,231.40 174.45,236.00"/>
<polyline points="218.55,233.70 223.60,233.70" stroke-width="1.3" fill="none"/>
<polygon class="a" points="223.60,233.70 219.00,231.40 219.00,236.00"/>
<polyline points="263.10,233.70 449.20,233.70" stroke-width="1.3" fill="none"/>
<polygon class="a" points="449.20,233.70 444.60,231.40 444.60,236.00"/>
<polygon points="452.00,228.75 484.50,228.75 479.40,238.65 446.90,238.65" stroke-width="1.4"/>
<use href="#g11" x="456.34" y="231.10"/><use href="#g2" x="461.02" y="231.10"/><use href="#g7" x="465.70" y="231.10"/><use href="#g12" x="470.38" y="231.10"/>
<polyline points="482.00,233.70 490.70,233.70" stroke-width="1.3" fill="none"/>
<polygon class="a" points="490.70,233.70 486.10,231.40 486.10,236.00"/>
<rect x="491.20" y="228.75" width="38.80" height="9.90" stroke-width="1.4"/>
<use href="#g3" x="501.24" y="228.72"/><use href="#g9" x="505.92" y="228.72"/><use href="#g0" x="510.60" y="228.72"/><use href="#g5" x="515.28" y="228.72"/>
<use href="#g10" x="496.56" y="233.47"/><use href="#g1" x="501.24" y="233.47"/><use href="#g6" x="505.92" y="233.47"/><use href="#g11" x="510.60" y="233.47"/><use href="#g2" x="515.28" y="233.47"/><use href="#g7" x="519.96" y="233.47"/>
<polyline points="530.00,233.70 541.20,233.70" stroke-width="1.3" fill="none"/>
<polyline points="27.00,249.00 34.30,249.00" stroke-width="1.3" fill="none"/>
<polygon class="a" points="34.30,249.00 29.70,246.70 29.70,251.30"/>
<polygon points="34.70,249.00 45.80,244.05 84.20,244.05 84.20,253.95 34.70,253.95" stroke-width="1.4"/>
<use href="#g12" x="42.50" y="243.65"/><use href="#g3" x="47.10" y="243.65"/><use href="#g8" x="51.70" y="243.65"/><use href="#g13" x="56.30" y="243.65"/><use href="#g4" x="60.90" y="243.65"/><use href="#g10" x="65.50" y="243.65"/><use href="#g1" x="70.10" y="243.65"/><use href="#g6" x="74.70" y="243.65"/>
<use href="#g11" x="42.50" y="248.95"/><use href="#g2" x="47.10" y="248.95"/><use href="#g7" x="51.70" y="248.95"/><use href="#g12" x="56.30" y="248.95"/><use href="#g3" x="60.90" y="248.95"/>
<polyline points="84.60,249.00 110.35,249.00" stroke-width="2.1" fill="none"/>
<polyline points="109.75,249.00 154.90,249.00" stroke-width="1.8" fill="none"/>
<polyline points="154.30,249.00 199.55,249.00" stroke-width="1.4" fill="none"/>
<polyline points="109.75,249.00 109.75,258.65" stroke-width="1.3" fill="none"/>
<polygon class="a" points="109.75,258.65 107.45,254.05 112.05,254.05"/>
<polyline points="109.75,269.45 109.75,274.20" stroke-width="1.3" fill="none"/>
<polyline points="154.30,249.00 154.30,258.65" stroke-width="1.3" fill="none"/>
<polygon class="a" points="154.30,258.65 152.00,254.05 156.60,254.05"/>
<polyline points="154.30,269.45 154.30,274.20" stroke-width="1.3" fill="none"/>
<polyline points="198.85,249.00 198.85,258.65" stroke-width="1.3" fill="none"/>
<polygon class="a" points="198.85,258.65 196.55,254.05 201.15,254.05"/>
<polyline points="198.85,269.45 198.85,274.20" stroke-width="1.3" fill="none"/>
<rect x="90.45" y="259.15" width="38.60" height="9.90" stroke-width="1.4"/>
<use href="#g8" x="93.37" y="259.12"/><use href="#g13" x="98.05" y="259.12"/><use href="#g4" x="102.73" y="259.12"/><use href="#g9" x="107.41" y="259.12"/><use href="#g0" x="112.09" y="259.12"/><use href="#g5" x="116.77" y="259.12"/><use href="#g11" x="121.45" y="259.12"/>
<use href="#g2" x="100.39" y="263.88"/><use href="#g7" x="105.07" y="263.88"/><use href="#g12" x="109.75" y="263.88"/><use href="#g3" x="114.43" y="263.88"/>
<rect x="135.00" y="259.15" width="38.60" height="9.90" stroke-width="1.4"/>
<use href="#g8" x="137.92" y="259.12"/><use href="#g13" x="142.60" y="259.12"/><use href="#g4" x="147.28" y="259.12"/><use href="#g9" x="151.96" y="259.12"/><use href="#g0" x="156.64" y="259.12"/><use href="#g5" x="161.32" y="259.12"/><use href="#g10" x="166.00" y="259.12"/>
<use href="#g1" x="142.60" y="263.88"/><use href="#g6" x="147.28" y="263.88"/><use href="#g12" x="151.96" y="263.88"/><use href="#g3" x="156.64" y="263.88"/><use href="#g8" x="161.32" y="263.88"/>
<rect x="179.55" y="259.15" width="38.60" height="9.90" stroke-width="1.4"/>
<use href="#g13" x="182.47" y="261.50"/><use href="#g4" x="187.15" y="261.50"/><use href="#g9" x="191.83" y="261.50"/><use href="#g0" x="196.51" y="261.50"/><use href="#g5" x="201.19" y="261.50"/><use href="#g10" x="205.87" y="261.50"/><use href="#g1" x="210.55" y="261.50"/>
<polyline points="109.25,274.00 154.30,274.00" stroke-width="1.0" fill="none"/>
<polyline points="153.80,274.00 198.85,274.00" stroke-width="1.5" fill="none"/>
<polyline points="198.35,274.00 243.40,274.00 243.40,254.45" stroke-width="2.0" fill="none"/>
<polygon class="a" points="243.40,254.45 240.70,259.45 246.10,259.45"/>
<rect x="224.10" y="244.05" width="38.60" height="9.90" stroke-width="1.4"/>
<use href="#g6" x="227.02" y="244.03"/><use href="#g11" x="231.70" y="244.03"/><use href="#g2" x="236.38" y="244.03"/><use href="#g7" x="241.06" y="244.03"/><use href="#g13" x="245.74" y="244.03"/><use href="#g4" x="250.42" y="244.03"/><use href="#g9" x="255.10" y="244.03"/>
<use href="#g0" x="227.02" y="248.78"/><use href="#g5" x="231.70" y="248.78"/><use href="#g10" x="236.38" y="248.78"/><use href="#g1" x="241.06" y="248.78"/><use href="#g6" x="245.74" y="248.78"/><use href="#g11" x="250.42" y="248.78"/><use href="#g2" x="255.10" y="248.78"/>
<polyline points="263.10,249.00 449.20,249.00" stroke-width="1.3" fill="none"/>
<polygon class="a" points="449.20,249.00 444.60,246.70 444.60,251.30"/>
<polygon points="452.00,244.05 484.50,244.05 479.40,253.95 446.90,253.95" stroke-width="1.4"/>
<use href="#g7" x="456.34" y="246.40"/><use href="#g12" x="461.02" y="246.40"/><use href="#g3" x="465.70" y="246.40"/><use href="#g8" x="470.38" y="246.40"/>
<polyline points="482.00,249.00 490.70,249.00" stroke-width="1.3" fill="none"/>
<polygon class="a" points="490.70,249.00 486.10,246.70 486.10,251.30"/>
<rect x="491.20" y="244.05" width="38.80" height="9.90" stroke-width="1.4"/>
<use href="#g0" x="501.24" y="244.03"/><use href="#g5" x="505.92" y="244.03"/><use href="#g10" x="510.60" y="244.03"/><use href="#g1" x="515.28" y="244.03"/>
<use href="#g6" x="496.56" y="248.78"/><use href="#g11" x="501.24" y="248.78"/><use href="#g2" x="505.92" y="248.78"/><use href="#g7" x="510.60" y="248.78"/><use href="#g12" x="515.28" y="248.78"/><use href="#g3" x="519.96" y="248.78"/>
<polyline points="530.00,249.00 541.20,249.00" stroke-width="1.3" fill="none"/>
<polyline points="27.00,284.80 34.30,284.80" stroke-width="1.3" fill="none"/>
<polygon class="a" points="34.30,284.80 29.70,282.50 29.70,287.10"/>
<polygon points="34.70,284.80 45.80,279.85 84.20,279.85 84.20,289.75 34.70,289.75" stroke-width="1.4"/>
<use href="#g8" x="43.50" y="279.45"/><use href="#g13" x="48.10" y="279.45"/><use href="#g4" x="52.70" y="279.45"/>
<use href="#g9" x="43.50" y="284.75"/><use href="#g1" x="48.10" y="284.75"/><use href="#g6" x="52.70" y="284.75"/><use href="#g11" x="57.30" y="284.75"/><use href="#g2" x="61.90" y="284.75"/><use href="#g7" x="66.50" y="284.75"/>
<polyline points="84.60,284.80 154.90,284.80" stroke-width="2.1" fill="none"/>
<polyline points="154.30,284.80 244.00,284.80" stroke-width="1.7" fill="none"/>
<polyline points="243.40,284.80 288.65,284.80" stroke-width="1.4" fill="none"/>
<polyline points="109.75,284.80 109.75,294.65" stroke-width="1.3" fill="none"/>
<polygon class="a" points="109.75,294.65 107.45,290.05 112.05,290.05"/>
<polyline points="109.75,305.45 109.75,310.50" stroke-width="1.3" fill="none"/>
<polyline points="154.30,284.80 154.30,294.65" stroke-width="1.3" fill="none"/>
<polygon class="a" points="154.30,294.65 152.00,290.05 156.60,290.05"/>
<polyline points="154.30,305.45 154.30,310.50" stroke-width="1.3" fill="none"/>
<polyline points="198.85,284.80 198.85,294.65" stroke-width="1.3" fill="none"/>
<polygon class="a" points="198.85,294.65 196.55,290.05 201.15,290.05"/>
<polyline points="198.85,305.45 198.85,310.50" stroke-width="1.3" fill="none"/>
<polyline points="243.40,284.80 243.40,294.65" stroke-width="1.3" fill="none"/>
<polygon class="a" points="243.40,294.65 241.10,290.05 245.70,290.05"/>
<polyline points="243.40,305.45 243.40,310.50" stroke-width="1.3" fill="none"/>
<polyline points="287.95,284.80 287.95,294.65" stroke-width="1.3" fill="none"/>
<polygon class="a" points="287.95,294.65 285.65,290.05 290.25,290.05"/>
<polyline points="287.95,305.45 287.95,310.50" stroke-width="1.3" fill="none"/>
<rect x="90.45" y="295.15" width="38.60" height="9.90" stroke-width="1.4"/>
<use href="#g12" x="93.37" y="297.50"/><use href="#g3" x="98.05" y="297.50"/><use href="#g8" x="102.73" y="297.50"/><use href="#g13" x="107.41" y="297.50"/><use href="#g4" x="112.09" y="297.50"/><use href="#g9" x="116.77" y="297.50"/><use href="#g0" x="121.45" y="297.50"/>
<rect x="135.00" y="295.15" width="38.60" height="9.90" stroke-width="1.4"/>
<use href="#g5" x="137.92" y="297.50"/><use href="#g10" x="142.60" y="297.50"/><use href="#g2" x="147.28" y="297.50"/><use href="#g7" x="151.96" y="297.50"/><use href="#g12" x="156.64" y="297.50"/><use href="#g3" x="161.32" y="297.50"/><use href="#g8" x="166.00" y="297.50"/>
<rect x="179.55" y="295.15" width="38.60" height="9.90" stroke-width="1.4"/>
<use href="#g13" x="182.47" y="295.12"/><use href="#g4" x="187.15" y="295.12"/><use href="#g9" x="191.83" y="295.12"/><use href="#g0" x="196.51" y="295.12"/><use href="#g5" x="201.19" y="295.12"/><use href="#g10" x="205.87" y="295.12"/><use href="#g1" x="210.55" y="295.12"/>
<use href="#g6" x="194.17" y="299.88"/><use href="#g11" x="198.85" y="299.88"/>
<rect x="224.10" y="295.15" width="38.60" height="9.90" stroke-width="1.4"/>
<use href="#g3" x="227.02" y="295.12"/><use href="#g8" x="231.70" y="295.12"/><use href="#g13" x="236.38" y="295.12"/><use href="#g4" x="241.06" y="295.12"/><use href="#g9" x="245.74" y="295.12"/><use href="#g0" x="250.42" y="295.12"/><use href="#g5" x="255.10" y="295.12"/>
<use href="#g10" x="238.72" y="299.88"/><use href="#g1" x="243.40" y="299.88"/>
<rect x="268.65" y="295.15" width="38.60" height="9.90" stroke-width="1.4"/>
<use href="#g6" x="271.57" y="295.12"/><use href="#g11" x="276.25" y="295.12"/><use href="#g2" x="280.93" y="295.12"/><use href="#g7" x="285.61" y="295.12"/><use href="#g12" x="290.29" y="295.12"/><use href="#g4" x="294.97" y="295.12"/><use href="#g9" x="299.65" y="295.12"/>
<use href="#g0" x="285.61" y="299.88"/>
<polyline points="109.25,310.40 198.85,310.40" stroke-width="1.0" fill="none"/>
<polyline points="198.35,310.40 332.50,310.40 332.50,293.45" stroke-width="1.4" fill="none"/>
<polygon class="a" points="332.50,290.25 329.80,295.25 335.20,295.25"/>
<rect x="313.20" y="279.85" width="38.60" height="9.90" stroke-width="1.4"/>
<use href="#g5" x="316.12" y="279.82"/><use href="#g10" x="320.80" y="279.82"/><use href="#g1" x="325.48" y="279.82"/><use href="#g6" x="330.16" y="279.82"/><use href="#g11" x="334.84" y="279.82"/><use href="#g2" x="339.52" y="279.82"/><use href="#g7" x="344.20" y="279.82"/>
<use href="#g12" x="323.14" y="284.57"/><use href="#g3" x="327.82" y="284.57"/><use href="#g8" x="332.50" y="284.57"/><use href="#g13" x="337.18" y="284.57"/>
<polyline points="352.20,284.80 449.20,284.80" stroke-width="1.3" fill="none"/>
<polygon class="a" points="449.20,284.80 444.60,282.50 444.60,287.10"/>
<polygon points="452.00,279.85 484.50,279.85 479.40,289.75 446.90,289.75" stroke-width="1.4"/>
<use href="#g5" x="456.34" y="282.20"/><use href="#g10" x="461.02" y="282.20"/><use href="#g1" x="465.70" y="282.20"/><use href="#g6" x="470.38" y="282.20"/>
<polyline points="482.00,284.80 490.70,284.80" stroke-width="1.3" fill="none"/>
<polygon class="a" points="490.70,284.80 486.10,282.50 486.10,287.10"/>
<rect x="491.20" y="279.85" width="38.80" height="9.90" stroke-width="1.4"/>
<use href="#g11" x="501.24" y="279.82"/><use href="#g2" x="505.92" y="279.82"/><use href="#g7" x="510.60" y="279.82"/><use href="#g12" x="515.28" y="279.82"/>
<use href="#g3" x="496.56" y="284.57"/><use href="#g8" x="501.24" y="284.57"/><use href="#g13" x="505.92" y="284.57"/><use href="#g4" x="510.60" y="284.57"/><use href="#g9" x="515.28" y="284.57"/><use href="#g0" x="519.96" y="284.57"/>
<polyline points="530.00,284.80 541.20,284.80" stroke-width="1.3" fill="none"/>
<polyline points="27.00,320.40 34.30,320.40" stroke-width="1.3" fill="none"/>
<polygon class="a" points="34.30,320.40 29.70,318.10 29.70,322.70"/>
<polygon points="34.70,320.40 45.80,315.45 84.20,315.45 84.20,325.35 34.70,325.35" stroke-width="1.4"/>
<use href="#g6" x="42.50" y="315.05"/><use href="#g11" x="47.10" y="315.05"/><use href="#g2" x="51.70" y="315.05"/><use href="#g7" x="56.30" y="315.05"/><use href="#g12" x="60.90" y="315.05"/><use href="#g3" x="65.50" y="315.05"/><use href="#g8" x="70.10" y="315.05"/><use href="#g13" x="74.70" y="315.05"/>
<use href="#g4" x="42.50" y="320.35"/><use href="#g9" x="47.10" y="320.35"/>
<polyline points="84.60,320.40 89.95,320.40" stroke-width="1.3" fill="none"/>
<polygon class="a" points="89.95,320.40 85.35,318.10 85.35,322.70"/>
<rect x="90.45" y="315.45" width="38.60" height="9.90" stroke-width="1.4"/>
<use href="#g0" x="95.71" y="317.80"/><use href="#g5" x="100.39" y="317.80"/><use href="#g10" x="105.07" y="317.80"/><use href="#g1" x="109.75" y="317.80"/><use href="#g7" x="114.43" y="317.80"/><use href="#g12" x="119.11" y="317.80"/>
<polyline points="129.45,320.40 134.50,320.40" stroke-width="1.3" fill="none"/>
<polygon class="a" points="134.50,320.40 129.90,318.10 129.90,322.70"/>
<rect x="135.00" y="315.45" width="38.60" height="9.90" stroke-width="1.4"/>
<use href="#g3" x="140.26" y="317.80"/><use href="#g8" x="144.94" y="317.80"/><use href="#g13" x="149.62" y="317.80"/><use href="#g4" x="154.30" y="317.80"/><use href="#g9" x="158.98" y="317.80"/><use href="#g0" x="163.66" y="317.80"/>
<polyline points="174.00,320.40 179.05,320.40" stroke-width="1.3" fill="none"/>
<polygon class="a" points="179.05,320.40 174.45,318.10 174.45,322.70"/>
<rect x="179.55" y="315.45" width="38.60" height="9.90" stroke-width="1.4"/>
<use href="#g5" x="187.15" y="317.80"/><use href="#g10" x="191.83" y="317.80"/><use href="#g1" x="196.51" y="317.80"/><use href="#g6" x="201.19" y="317.80"/><use href="#g11" x="205.87" y="317.80"/>
<polyline points="218.55,320.40 223.60,320.40" stroke-width="1.3" fill="none"/>
<polygon class="a" points="223.60,320.40 219.00,318.10 219.00,322.70"/>
<rect x="224.10" y="315.45" width="38.60" height="9.90" stroke-width="1.4"/>
<use href="#g2" x="227.02" y="315.42"/><use href="#g8" x="231.70" y="315.42"/><use href="#g13" x="236.38" y="315.42"/><use href="#g4" x="241.06" y="315.42"/><use href="#g9" x="245.74" y="315.42"/><use href="#g0" x="250.42" y="315.42"/><use href="#g5" x="255.10" y="315.42"/>
<use href="#g10" x="241.06" y="320.17"/>
<polyline points="263.10,320.40 446.70,320.40" stroke-width="1.3" fill="none"/>
<polygon class="a" points="446.70,320.40 442.10,318.10 442.10,322.70"/>
<polygon points="449.50,315.45 482.60,315.45 477.50,325.35 444.40,325.35" stroke-width="1.4"/>
<use href="#g1" x="454.14" y="317.80"/><use href="#g6" x="458.82" y="317.80"/><use href="#g11" x="463.50" y="317.80"/><use href="#g2" x="468.18" y="317.80"/>
<polyline points="480.10,320.40 490.70,320.40" stroke-width="1.3" fill="none"/>
<polygon class="a" points="490.70,320.40 486.10,318.10 486.10,322.70"/>
<rect x="491.20" y="315.45" width="38.80" height="9.90" stroke-width="1.4"/>
<use href="#g7" x="494.22" y="315.42"/><use href="#g12" x="498.90" y="315.42"/><use href="#g3" x="503.58" y="315.42"/><use href="#g9" x="508.26" y="315.42"/><use href="#g0" x="512.94" y="315.42"/><use href="#g5" x="517.62" y="315.42"/><use href="#g10" x="522.30" y="315.42"/>
<use href="#g1" x="496.56" y="320.17"/><use href="#g6" x="501.24" y="320.17"/><use href="#g11" x="505.92" y="320.17"/><use href="#g2" x="510.60" y="320.17"/><use href="#g7" x="515.28" y="320.17"/><use href="#g12" x="519.96" y="320.17"/>
<polyline points="530.00,320.40 541.20,320.40" stroke-width="1.3" fill="none"/>
<polyline points="27.00,335.80 34.30,335.80" stroke-width="1.3" fill="none"/>
<polygon class="a" points="34.30,335.80 29.70,333.50 29.70,338.10"/>
<polygon points="34.70,335.80 45.80,330.85 84.20,330.85 84.20,340.75 34.70,340.75" stroke-width="1.4"/>
<use href="#g3" x="42.50" y="330.45"/><use href="#g8" x="47.10" y="330.45"/><use href="#g13" x="51.70" y="330.45"/><use href="#g4" x="56.30" y="330.45"/><use href="#g10" x="60.90" y="330.45"/><use href="#g1" x="65.50" y="330.45"/><use href="#g6" x="70.10" y="330.45"/><use href="#g11" x="74.70" y="330.45"/>
<use href="#g2" x="42.50" y="335.75"/><use href="#g7" x="47.10" y="335.75"/><use href="#g12" x="51.70" y="335.75"/><use href="#g3" x="56.30" y="335.75"/>
<polyline points="84.60,335.80 89.95,335.80" stroke-width="1.3" fill="none"/>
<polygon class="a" points="89.95,335.80 85.35,333.50 85.35,338.10"/>
<rect x="90.45" y="330.85" width="38.60" height="9.90" stroke-width="1.4"/>
<use href="#g8" x="95.71" y="333.20"/><use href="#g13" x="100.39" y="333.20"/><use href="#g4" x="105.07" y="333.20"/><use href="#g9" x="109.75" y="333.20"/><use href="#g0" x="114.43" y="333.20"/><use href="#g5" x="119.11" y="333.20"/>
<polyline points="129.45,335.80 134.50,335.80" stroke-width="1.3" fill="none"/>
<polygon class="a" points="134.50,335.80 129.90,333.50 129.90,338.10"/>
<rect x="135.00" y="330.85" width="38.60" height="9.90" stroke-width="1.4"/>
<use href="#g11" x="140.26" y="333.20"/><use href="#g2" x="144.94" y="333.20"/><use href="#g7" x="149.62" y="333.20"/><use href="#g12" x="154.30" y="333.20"/><use href="#g3" x="158.98" y="333.20"/><use href="#g8" x="163.66" y="333.20"/>
<polyline points="174.00,335.80 179.05,335.80" stroke-width="1.3" fill="none"/>
<polygon class="a" points="179.05,335.80 174.45,333.50 174.45,338.10"/>
<rect x="179.55" y="330.85" width="38.60" height="9.90" stroke-width="1.4"/>
<use href="#g13" x="187.15" y="333.20"/><use href="#g4" x="191.83" y="333.20"/><use href="#g9" x="196.51" y="333.20"/><use href="#g0" x="201.19" y="333.20"/><use href="#g5" x="205.87" y="333.20"/>
<polyline points="218.55,335.80 223.60,335.80" stroke-width="1.3" fill="none"/>
<polygon class="a" points="223.60,335.80 219.00,333.50 219.00,338.10"/>
<rect x="224.10" y="330.85" width="38.60" height="9.90" stroke-width="1.4"/>
<use href="#g10" x="227.02" y="330.82"/><use href="#g1" x="231.70" y="330.82"/><use href="#g6" x="236.38" y="330.82"/><use href="#g12" x="241.06" y="330.82"/><use href="#g3" x="245.74" y="330.82"/><use href="#g8" x="250.42" y="330.82"/><use href="#g13" x="255.10" y="330.82"/>
<use href="#g4" x="241.06" y="335.57"/>
<polyline points="263.10,335.80 446.70,335.80" stroke-width="1.3" fill="none"/>
<polygon class="a" points="446.70,335.80 442.10,333.50 442.10,338.10"/>
<polygon points="449.50,330.85 482.60,330.85 477.50,340.75 444.40,340.75" stroke-width="1.4"/>
<use href="#g9" x="454.14" y="333.20"/><use href="#g0" x="458.82" y="333.20"/><use href="#g5" x="463.50" y="333.20"/><use href="#g10" x="468.18" y="333.20"/>
<polyline points="480.10,335.80 490.70,335.80" stroke-width="1.3" fill="none"/>
<polygon class="a" points="490.70,335.80 486.10,333.50 486.10,338.10"/>
<rect x="491.20" y="330.85" width="38.80" height="9.90" stroke-width="1.4"/>
<use href="#g1" x="494.22" y="330.82"/><use href="#g6" x="498.90" y="330.82"/><use href="#g11" x="503.58" y="330.82"/><use href="#g2" x="508.26" y="330.82"/><use href="#g7" x="512.94" y="330.82"/><use href="#g13" x="517.62" y="330.82"/><use href="#g4" x="522.30" y="330.82"/>
<use href="#g9" x="496.56" y="335.57"/><use href="#g0" x="501.24" y="335.57"/><use href="#g5" x="505.92" y="335.57"/><use href="#g10" x="510.60" y="335.57"/><use href="#g1" x="515.28" y="335.57"/><use href="#g6" x="519.96" y="335.57"/>
<polyline points="530.00,335.80 541.20,335.80" stroke-width="1.3" fill="none"/>
<polyline points="27.00,351.15 34.30,351.15" stroke-width="1.3" fill="none"/>
<polygon class="a" points="34.30,351.15 29.70,348.85 29.70,353.45"/>
<polygon points="34.70,351.15 45.80,346.20 84.20,346.20 84.20,356.10 34.70,356.10" stroke-width="1.4"/>
<use href="#g11" x="42.50" y="345.80"/><use href="#g2" x="47.10" y="345.80"/><use href="#g7" x="51.70" y="345.80"/><use href="#g12" x="56.30" y="345.80"/><use href="#g3" x="60.90" y="345.80"/><use href="#g8" x="65.50" y="345.80"/><use href="#g0" x="70.10" y="345.80"/><use href="#g5" x="74.70" y="345.80"/>
<use href="#g10" x="42.50" y="351.10"/><use href="#g1" x="47.10" y="351.10"/><use href="#g6" x="51.70" y="351.10"/><use href="#g11" x="56.30" y="351.10"/>
<polyline points="84.60,351.15 89.95,351.15" stroke-width="1.3" fill="none"/>
<polygon class="a" points="89.95,351.15 85.35,348.85 85.35,353.45"/>
<rect x="90.45" y="346.20" width="38.60" height="9.90" stroke-width="1.4"/>
<use href="#g2" x="95.71" y="348.55"/><use href="#g7" x="100.39" y="348.55"/><use href="#g12" x="105.07" y="348.55"/><use href="#g3" x="109.75" y="348.55"/><use href="#g8" x="114.43" y="348.55"/><use href="#g13" x="119.11" y="348.55"/>
<polyline points="129.45,351.15 134.50,351.15" stroke-width="1.3" fill="none"/>
<polygon class="a" points="134.50,351.15 129.90,348.85 129.90,353.45"/>
<rect x="135.00" y="346.20" width="38.60" height="9.90" stroke-width="1.4"/>
<use href="#g4" x="140.26" y="348.55"/><use href="#g9" x="144.94" y="348.55"/><use href="#g1" x="149.62" y="348.55"/><use href="#g6" x="154.30" y="348.55"/><use href="#g11" x="158.98" y="348.55"/><use href="#g2" x="163.66" y="348.55"/>
<polyline points="174.00,351.15 179.05,351.15" stroke-width="1.3" fill="none"/>
<polygon class="a" points="179.05,351.15 174.45,348.85 174.45,353.45"/>
<rect x="179.55" y="346.20" width="38.60" height="9.90" stroke-width="1.4"/>
<use href="#g7" x="187.15" y="348.55"/><use href="#g12" x="191.83" y="348.55"/><use href="#g3" x="196.51" y="348.55"/><use href="#g8" x="201.19" y="348.55"/><use href="#g13" x="205.87" y="348.55"/>
<polyline points="218.55,351.15 223.60,351.15" stroke-width="1.3" fill="none"/>
<polygon class="a" points="223.60,351.15 219.00,348.85 219.00,353.45"/>
<rect x="224.10" y="346.20" width="38.60" height="9.90" stroke-width="1.4"/>
<use href="#g4" x="227.02" y="346.17"/><use href="#g9" x="231.70" y="346.17"/><use href="#g0" x="236.38" y="346.17"/><use href="#g5" x="241.06" y="346.17"/><use href="#g10" x="245.74" y="346.17"/><use href="#g2" x="250.42" y="346.17"/><use href="#g7" x="255.10" y="346.17"/>
<use href="#g12" x="241.06" y="350.92"/>
<polyline points="263.10,351.15 446.70,351.15" stroke-width="1.3" fill="none"/>
<polygon class="a" points="446.70,351.15 442.10,348.85 442.10,353.45"/>
<polygon points="449.50,346.20 482.60,346.20 477.50,356.10 444.40,356.10" stroke-width="1.4"/>
<use href="#g3" x="454.14" y="348.55"/><use href="#g8" x="458.82" y="348.55"/><use href="#g13" x="463.50" y="348.55"/><use href="#g4" x="468.18" y="348.55"/>
<polyline points="480.10,351.15 490.70,351.15" stroke-width="1.3" fill="none"/>
<polygon class="a" points="490.70,351.15 486.10,348.85 486.10,353.45"/>
<rect x="491.20" y="346.20" width="38.80" height="9.90" stroke-width="1.4"/>
<use href="#g9" x="494.22" y="346.17"/><use href="#g0" x="498.90" y="346.17"/><use href="#g5" x="503.58" y="346.17"/><use href="#g10" x="508.26" y="346.17"/><use href="#g1" x="512.94" y="346.17"/><use href="#g6" x="517.62" y="346.17"/><use href="#g11" x="522.30" y="346.17"/>
<use href="#g3" x="496.56" y="350.92"/><use href="#g8" x="501.24" y="350.92"/><use href="#g13" x="505.92" y="350.92"/><use href="#g4" x="510.60" y="350.92"/><use href="#g9" x="515.28" y="350.92"/><use href="#g0" x="519.96" y="350.92"/>
<polyline points="530.00,351.15 541.20,351.15" stroke-width="1.3" fill="none"/>
<polyline points="27.00,366.50 34.30,366.50" stroke-width="1.3" fill="none"/>
<polygon class="a" points="34.30,366.50 29.70,364.20 29.70,368.80"/>
<polygon points="34.70,366.50 45.80,361.55 84.20,361.55 84.20,371.45 34.70,371.45" stroke-width="1.4"/>
<use href="#g5" x="42.50" y="361.15"/><use href="#g10" x="47.10" y="361.15"/><use href="#g1" x="51.70" y="361.15"/>
<use href="#g6" x="42.50" y="366.45"/><use href="#g11" x="47.10" y="366.45"/><use href="#g2" x="51.70" y="366.45"/><use href="#g7" x="56.30" y="366.45"/><use href="#g12" x="60.90" y="366.45"/>
<polyline points="84.60,366.50 89.95,366.50" stroke-width="1.3" fill="none"/>
<polygon class="a" points="89.95,366.50 85.35,364.20 85.35,368.80"/>
<rect x="90.45" y="361.55" width="38.60" height="9.90" stroke-width="1.4"/>
<use href="#g4" x="93.37" y="361.52"/><use href="#g9" x="98.05" y="361.52"/><use href="#g0" x="102.73" y="361.52"/><use href="#g5" x="107.41" y="361.52"/><use href="#g10" x="112.09" y="361.52"/><use href="#g1" x="116.77" y="361.52"/><use href="#g6" x="121.45" y="361.52"/>
<use href="#g11" x="105.07" y="366.27"/><use href="#g2" x="109.75" y="366.27"/>
<polyline points="129.45,366.50 134.50,366.50" stroke-width="1.3" fill="none"/>
<polygon class="a" points="134.50,366.50 129.90,364.20 129.90,368.80"/>
<rect x="135.00" y="361.55" width="38.60" height="9.90" stroke-width="1.4"/>
<use href="#g7" x="137.92" y="361.52"/><use href="#g12" x="142.60" y="361.52"/><use href="#g3" x="147.28" y="361.52"/><use href="#g8" x="151.96" y="361.52"/><use href="#g13" x="156.64" y="361.52"/><use href="#g5" x="161.32" y="361.52"/><use href="#g10" x="166.00" y="361.52"/>
<use href="#g1" x="144.94" y="366.27"/><use href="#g6" x="149.62" y="366.27"/><use href="#g11" x="154.30" y="366.27"/><use href="#g2" x="158.98" y="366.27"/>
<polyline points="174.00,366.50 179.05,366.50" stroke-width="1.3" fill="none"/>
<polygon class="a" points="179.05,366.50 174.45,364.20 174.45,368.80"/>
<rect x="179.55" y="361.55" width="38.60" height="9.90" stroke-width="1.4"/>
<use href="#g7" x="182.47" y="363.90"/><use href="#g12" x="187.15" y="363.90"/><use href="#g3" x="191.83" y="363.90"/><use href="#g8" x="196.51" y="363.90"/><use href="#g13" x="201.19" y="363.90"/><use href="#g4" x="205.87" y="363.90"/><use href="#g9" x="210.55" y="363.90"/>
<polyline points="218.55,366.50 223.60,366.50" stroke-width="1.3" fill="none"/>
<polygon class="a" points="223.60,366.50 219.00,364.20 219.00,368.80"/>
<rect x="224.10" y="361.55" width="38.60" height="9.90" stroke-width="1.4"/>
<use href="#g0" x="229.36" y="363.90"/><use href="#g6" x="234.04" y="363.90"/><use href="#g11" x="238.72" y="363.90"/><use href="#g2" x="243.40" y="363.90"/><use href="#g7" x="248.08" y="363.90"/><use href="#g12" x="252.76" y="363.90"/>
<polyline points="263.10,366.50 446.70,366.50" stroke-width="1.3" fill="none"/>
<polygon class="a" points="446.70,366.50 442.10,364.20 442.10,368.80"/>
<polygon points="449.50,361.55 482.60,361.55 477.50,371.45 444.40,371.45" stroke-width="1.4"/>
<use href="#g3" x="454.14" y="363.90"/><use href="#g8" x="458.82" y="363.90"/><use href="#g13" x="463.50" y="363.90"/><use href="#g4" x="468.18" y="363.90"/>
<polyline points="480.10,366.50 490.70,366.50" stroke-width="1.3" fill="none"/>
<polygon class="a" points="490.70,366.50 486.10,364.20 486.10,368.80"/>
<rect x="491.20" y="361.55" width="38.80" height="9.90" stroke-width="1.4"/>
<use href="#g9" x="494.22" y="361.52"/><use href="#g0" x="498.90" y="361.52"/><use href="#g5" x="503.58" y="361.52"/><use href="#g10" x="508.26" y="361.52"/><use href="#g1" x="512.94" y="361.52"/><use href="#g7" x="517.62" y="361.52"/><use href="#g12" x="522.30" y="361.52"/>
<use href="#g3" x="496.56" y="366.27"/><use href="#g8" x="501.24" y="366.27"/><use href="#g13" x="505.92" y="366.27"/><use href="#g4" x="510.60" y="366.27"/><use href="#g9" x="515.28" y="366.27"/><use href="#g0" x="519.96" y="366.27"/>
<polyline points="530.00,366.50 541.20,366.50" stroke-width="1.3" fill="none"/>
<polyline points="27.00,381.90 34.30,381.90" stroke-width="1.3" fill="none"/>
<polygon class="a" points="34.30,381.90 29.70,379.60 29.70,384.20"/>
<polygon points="34.70,381.90 45.80,376.95 84.20,376.95 84.20,386.85 34.70,386.85" stroke-width="1.4"/>
<use href="#g5" x="42.50" y="376.55"/><use href="#g10" x="47.10" y="376.55"/><use href="#g1" x="51.70" y="376.55"/><use href="#g6" x="56.30" y="376.55"/>
<use href="#g11" x="42.50" y="381.85"/><use href="#g2" x="47.10" y="381.85"/><use href="#g8" x="51.70" y="381.85"/><use href="#g13" x="56.30" y="381.85"/><use href="#g4" x="60.90" y="381.85"/>
<polyline points="84.60,381.90 89.95,381.90" stroke-width="1.3" fill="none"/>
<polygon class="a" points="89.95,381.90 85.35,379.60 85.35,384.20"/>
<rect x="90.45" y="376.95" width="38.60" height="9.90" stroke-width="1.4"/>
<use href="#g9" x="93.37" y="376.92"/><use href="#g0" x="98.05" y="376.92"/><use href="#g5" x="102.73" y="376.92"/><use href="#g10" x="107.41" y="376.92"/><use href="#g1" x="112.09" y="376.92"/><use href="#g6" x="116.77" y="376.92"/><use href="#g11" x="121.45" y="376.92"/>
<use href="#g2" x="98.05" y="381.67"/><use href="#g7" x="102.73" y="381.67"/><use href="#g12" x="107.41" y="381.67"/><use href="#g3" x="112.09" y="381.67"/><use href="#g9" x="116.77" y="381.67"/>
<polyline points="129.45,381.90 134.50,381.90" stroke-width="1.3" fill="none"/>
<polygon class="a" points="134.50,381.90 129.90,379.60 129.90,384.20"/>
<rect x="135.00" y="376.95" width="38.60" height="9.90" stroke-width="1.4"/>
<use href="#g0" x="140.26" y="379.30"/><use href="#g5" x="144.94" y="379.30"/><use href="#g10" x="149.62" y="379.30"/><use href="#g1" x="154.30" y="379.30"/><use href="#g6" x="158.98" y="379.30"/><use href="#g11" x="163.66" y="379.30"/>
<polyline points="174.00,381.90 179.05,381.90" stroke-width="1.3" fill="none"/>
<polygon class="a" points="179.05,381.90 174.45,379.60 174.45,384.20"/>
<rect x="179.55" y="376.95" width="38.60" height="9.90" stroke-width="1.4"/>
<use href="#g2" x="189.49" y="379.30"/><use href="#g7" x="194.17" y="379.30"/><use href="#g12" x="198.85" y="379.30"/><use href="#g3" x="203.53" y="379.30"/>
<polyline points="218.55,381.90 446.70,381.90" stroke-width="1.3" fill="none"/>
<polygon class="a" points="446.70,381.90 442.10,379.60 442.10,384.20"/>
<polygon points="449.50,376.95 482.60,376.95 477.50,386.85 444.40,386.85" stroke-width="1.4"/>
<use href="#g8" x="454.14" y="379.30"/><use href="#g13" x="458.82" y="379.30"/><use href="#g4" x="463.50" y="379.30"/><use href="#g10" x="468.18" y="379.30"/>
<polyline points="480.10,381.90 490.70,381.90" stroke-width="1.3" fill="none"/>
<polygon class="a" points="490.70,381.90 486.10,379.60 486.10,384.20"/>
<rect x="491.20" y="376.95" width="38.80" height="9.90" stroke-width="1.4"/>
<use href="#g1" x="501.24" y="376.92"/><use href="#g6" x="505.92" y="376.92"/><use href="#g11" x="510.60" y="376.92"/><use href="#g2" x="515.28" y="376.92"/>
<use href="#g7" x="496.56" y="381.67"/><use href="#g12" x="501.24" y="381.67"/><use href="#g3" x="505.92" y="381.67"/><use href="#g8" x="510.60" y="381.67"/><use href="#g13" x="515.28" y="381.67"/><use href="#g4" x="519.96" y="381.67"/>
<polyline points="530.00,381.90 541.20,381.90" stroke-width="1.3" fill="none"/>
<polyline points="27.00,397.25 34.30,397.25" stroke-width="1.3" fill="none"/>
<polygon class="a" points="34.30,397.25 29.70,394.95 29.70,399.55"/>
<polygon points="34.70,397.25 45.80,392.30 84.20,392.30 84.20,402.20 34.70,402.20" stroke-width="1.4"/>
<use href="#g9" x="42.50" y="391.90"/><use href="#g0" x="47.10" y="391.90"/><use href="#g5" x="51.70" y="391.90"/><use href="#g11" x="56.30" y="391.90"/><use href="#g2" x="60.90" y="391.90"/><use href="#g7" x="65.50" y="391.90"/><use href="#g12" x="70.10" y="391.90"/>
<use href="#g3" x="42.50" y="397.20"/><use href="#g8" x="47.10" y="397.20"/><use href="#g13" x="51.70" y="397.20"/><use href="#g4" x="56.30" y="397.20"/><use href="#g9" x="60.90" y="397.20"/><use href="#g0" x="65.50" y="397.20"/>
<polyline points="84.60,397.25 89.95,397.25" stroke-width="1.3" fill="none"/>
<polygon class="a" points="89.95,397.25 85.35,394.95 85.35,399.55"/>
<rect x="90.45" y="392.30" width="38.60" height="9.90" stroke-width="1.4"/>
<use href="#g5" x="93.37" y="392.27"/><use href="#g10" x="98.05" y="392.27"/><use href="#g1" x="102.73" y="392.27"/><use href="#g6" x="107.41" y="392.27"/><use href="#g12" x="112.09" y="392.27"/><use href="#g3" x="116.77" y="392.27"/><use href="#g8" x="121.45" y="392.27"/>
<use href="#g13" x="105.07" y="397.02"/><use href="#g4" x="109.75" y="397.02"/>
<polyline points="129.45,397.25 134.50,397.25" stroke-width="1.3" fill="none"/>
<polygon class="a" points="134.50,397.25 129.90,394.95 129.90,399.55"/>
<rect x="135.00" y="392.30" width="38.60" height="9.90" stroke-width="1.4"/>
<use href="#g9" x="137.92" y="392.27"/><use href="#g0" x="142.60" y="392.27"/><use href="#g5" x="147.28" y="392.27"/><use href="#g10" x="151.96" y="392.27"/><use href="#g1" x="156.64" y="392.27"/><use href="#g6" x="161.32" y="392.27"/><use href="#g11" x="166.00" y="392.27"/>
<use href="#g2" x="149.62" y="397.02"/><use href="#g7" x="154.30" y="397.02"/>
<polyline points="174.00,397.25 179.05,397.25" stroke-width="1.3" fill="none"/>
<polygon class="a" points="179.05,397.25 174.45,394.95 174.45,399.55"/>
<rect x="179.55" y="392.30" width="38.60" height="9.90" stroke-width="1.4"/>
<use href="#g13" x="182.47" y="392.27"/><use href="#g4" x="187.15" y="392.27"/><use href="#g9" x="191.83" y="392.27"/><use href="#g0" x="196.51" y="392.27"/><use href="#g5" x="201.19" y="392.27"/><use href="#g10" x="205.87" y="392.27"/><use href="#g1" x="210.55" y="392.27"/>
<use href="#g6" x="191.83" y="397.02"/><use href="#g11" x="196.51" y="397.02"/><use href="#g2" x="201.19" y="397.02"/>
<polyline points="218.55,397.25 446.70,397.25" stroke-width="1.3" fill="none"/>
<polygon class="a" points="446.70,397.25 442.10,394.95 442.10,399.55"/>
<polygon points="449.50,392.30 482.60,392.30 477.50,402.20 444.40,402.20" stroke-width="1.4"/>
<use href="#g7" x="454.14" y="394.65"/><use href="#g12" x="458.82" y="394.65"/><use href="#g3" x="463.50" y="394.65"/><use href="#g8" x="468.18" y="394.65"/>
<polyline points="480.10,397.25 490.70,397.25" stroke-width="1.3" fill="none"/>
<polygon class="a" points="490.70,397.25 486.10,394.95 486.10,399.55"/>
<rect x="491.20" y="392.30" width="38.80" height="9.90" stroke-width="1.4"/>
<use href="#g0" x="501.24" y="392.27"/><use href="#g5" x="505.92" y="392.27"/><use href="#g10" x="510.60" y="392.27"/><use href="#g1" x="515.28" y="392.27"/>
<use href="#g6" x="496.56" y="397.02"/><use href="#g11" x="501.24" y="397.02"/><use href="#g2" x="505.92" y="397.02"/><use href="#g7" x="510.60" y="397.02"/><use href="#g12" x="515.28" y="397.02"/><use href="#g3" x="519.96" y="397.02"/>
<polyline points="530.00,397.25 541.20,397.25" stroke-width="1.3" fill="none"/>
<polyline points="27.00,412.60 34.30,412.60" stroke-width="1.3" fill="none"/>
<polygon class="a" points="34.30,412.60 29.70,410.30 29.70,414.90"/>
<polygon points="34.70,412.60 45.80,407.65 84.20,407.65 84.20,417.55 34.70,417.55" stroke-width="1.4"/>
<use href="#g8" x="42.50" y="407.25"/><use href="#g13" x="47.10" y="407.25"/><use href="#g4" x="51.70" y="407.25"/><use href="#g9" x="56.30" y="407.25"/><use href="#g1" x="60.90" y="407.25"/><use href="#g6" x="65.50" y="407.25"/><use href="#g11" x="70.10" y="407.25"/>
<use href="#g2" x="42.50" y="412.55"/><use href="#g7" x="47.10" y="412.55"/><use href="#g12" x="51.70" y="412.55"/><use href="#g3" x="56.30" y="412.55"/>
<polyline points="84.60,412.60 89.95,412.60" stroke-width="1.3" fill="none"/>
<polygon class="a" points="89.95,412.60 85.35,410.30 85.35,414.90"/>
<rect x="90.45" y="407.65" width="38.60" height="9.90" stroke-width="1.4"/>
<use href="#g8" x="93.37" y="407.62"/><use href="#g13" x="98.05" y="407.62"/><use href="#g4" x="102.73" y="407.62"/><use href="#g9" x="107.41" y="407.62"/><use href="#g0" x="112.09" y="407.62"/><use href="#g5" x="116.77" y="407.62"/><use href="#g10" x="121.45" y="407.62"/>
<use href="#g2" x="105.07" y="412.38"/><use href="#g7" x="109.75" y="412.38"/>
<polyline points="129.45,412.60 134.50,412.60" stroke-width="1.3" fill="none"/>
<polygon class="a" points="134.50,412.60 129.90,410.30 129.90,414.90"/>
<rect x="135.00" y="407.65" width="38.60" height="9.90" stroke-width="1.4"/>
<use href="#g12" x="137.92" y="407.62"/><use href="#g3" x="142.60" y="407.62"/><use href="#g8" x="147.28" y="407.62"/><use href="#g13" x="151.96" y="407.62"/><use href="#g4" x="156.64" y="407.62"/><use href="#g9" x="161.32" y="407.62"/><use href="#g0" x="166.00" y="407.62"/>
<use href="#g5" x="149.62" y="412.38"/><use href="#g10" x="154.30" y="412.38"/>
<polyline points="174.00,412.60 179.05,412.60" stroke-width="1.3" fill="none"/>
<polygon class="a" points="179.05,412.60 174.45,410.30 174.45,414.90"/>
<rect x="179.55" y="407.65" width="38.60" height="9.90" stroke-width="1.4"/>
<use href="#g1" x="182.47" y="407.62"/><use href="#g6" x="187.15" y="407.62"/><use href="#g11" x="191.83" y="407.62"/><use href="#g3" x="196.51" y="407.62"/><use href="#g8" x="201.19" y="407.62"/><use href="#g13" x="205.87" y="407.62"/><use href="#g4" x="210.55" y="407.62"/>
<use href="#g9" x="194.17" y="412.38"/><use href="#g0" x="198.85" y="412.38"/>
<polyline points="218.55,412.60 446.70,412.60" stroke-width="1.3" fill="none"/>
<polygon class="a" points="446.70,412.60 442.10,410.30 442.10,414.90"/>
<polygon points="449.50,407.65 482.60,407.65 477.50,417.55 444.40,417.55" stroke-width="1.4"/>
<use href="#g5" x="454.14" y="410.00"/><use href="#g10" x="458.82" y="410.00"/><use href="#g1" x="463.50" y="410.00"/><use href="#g6" x="468.18" y="410.00"/>
<polyline points="480.10,412.60 490.70,412.60" stroke-width="1.3" fill="none"/>
<polygon class="a" points="490.70,412.60 486.10,410.30 486.10,414.90"/>
<rect x="491.20" y="407.65" width="38.80" height="9.90" stroke-width="1.4"/>
<use href="#g11" x="501.24" y="407.62"/><use href="#g2" x="505.92" y="407.62"/><use href="#g7" x="510.60" y="407.62"/><use href="#g12" x="515.28" y="407.62"/>
<use href="#g4" x="496.56" y="412.38"/><use href="#g9" x="501.24" y="412.38"/><use href="#g0" x="505.92" y="412.38"/><use href="#g5" x="510.60" y="412.38"/><use href="#g10" x="515.28" y="412.38"/><use href="#g1" x="519.96" y="412.38"/>
<polyline points="530.00,412.60 541.20,412.60" stroke-width="1.3" fill="none"/>
<polyline points="27.00,428.00 34.30,428.00" stroke-width="1.3" fill="none"/>
<polygon class="a" points="34.30,428.00 29.70,425.70 29.70,430.30"/>
<polygon points="34.70,428.00 45.80,423.05 84.20,423.05 84.20,432.95 34.70,432.95" stroke-width="1.4"/>
<use href="#g6" x="42.50" y="422.65"/><use href="#g11" x="47.10" y="422.65"/><use href="#g2" x="51.70" y="422.65"/><use href="#g7" x="56.30" y="422.65"/><use href="#g12" x="60.90" y="422.65"/><use href="#g3" x="65.50" y="422.65"/><use href="#g8" x="70.10" y="422.65"/>
<use href="#g13" x="42.50" y="427.95"/><use href="#g5" x="47.10" y="427.95"/>
<polyline points="84.60,428.00 89.95,428.00" stroke-width="1.3" fill="none"/>
<polygon class="a" points="89.95,428.00 85.35,425.70 85.35,430.30"/>
<rect x="90.45" y="423.05" width="38.60" height="9.90" stroke-width="1.4"/>
<use href="#g10" x="93.37" y="423.02"/><use href="#g1" x="98.05" y="423.02"/><use href="#g6" x="102.73" y="423.02"/><use href="#g11" x="107.41" y="423.02"/><use href="#g2" x="112.09" y="423.02"/><use href="#g7" x="116.77" y="423.02"/><use href="#g12" x="121.45" y="423.02"/>
<use href="#g3" x="105.07" y="427.77"/><use href="#g8" x="109.75" y="427.77"/>
<polyline points="129.45,428.00 134.50,428.00" stroke-width="1.3" fill="none"/>
<polygon class="a" points="134.50,428.00 129.90,425.70 129.90,430.30"/>
<rect x="135.00" y="423.05" width="38.60" height="9.90" stroke-width="1.4"/>
<use href="#g13" x="137.92" y="423.02"/><use href="#g4" x="142.60" y="423.02"/><use href="#g9" x="147.28" y="423.02"/><use href="#g0" x="151.96" y="423.02"/><use href="#g6" x="156.64" y="423.02"/><use href="#g11" x="161.32" y="423.02"/><use href="#g2" x="166.00" y="423.02"/>
<use href="#g7" x="149.62" y="427.77"/><use href="#g12" x="154.30" y="427.77"/>
<polyline points="174.00,428.00 179.05,428.00" stroke-width="1.3" fill="none"/>
<polygon class="a" points="179.05,428.00 174.45,425.70 174.45,430.30"/>
<rect x="179.55" y="423.05" width="38.60" height="9.90" stroke-width="1.4"/>
<use href="#g3" x="184.81" y="425.40"/><use href="#g8" x="189.49" y="425.40"/><use href="#g13" x="194.17" y="425.40"/><use href="#g4" x="198.85" y="425.40"/><use href="#g9" x="203.53" y="425.40"/><use href="#g0" x="208.21" y="425.40"/>
<polyline points="218.55,428.00 446.70,428.00" stroke-width="1.3" fill="none"/>
<polygon class="a" points="446.70,428.00 442.10,425.70 442.10,430.30"/>
<polygon points="449.50,423.05 482.60,423.05 477.50,432.95 444.40,432.95" stroke-width="1.4"/>
<use href="#g5" x="454.14" y="425.40"/><use href="#g10" x="458.82" y="425.40"/><use href="#g1" x="463.50" y="425.40"/><use href="#g7" x="468.18" y="425.40"/>
<polyline points="480.10,428.00 490.70,428.00" stroke-width="1.3" fill="none"/>
<polygon class="a" points="490.70,428.00 486.10,425.70 486.10,430.30"/>
<rect x="491.20" y="423.05" width="38.80" height="9.90" stroke-width="1.4"/>
<use href="#g12" x="494.22" y="423.02"/><use href="#g3" x="498.90" y="423.02"/><use href="#g8" x="503.58" y="423.02"/><use href="#g13" x="508.26" y="423.02"/><use href="#g4" x="512.94" y="423.02"/><use href="#g9" x="517.62" y="423.02"/><use href="#g0" x="522.30" y="423.02"/>
<use href="#g5" x="496.56" y="427.77"/><use href="#g10" x="501.24" y="427.77"/><use href="#g1" x="505.92" y="427.77"/><use href="#g6" x="510.60" y="427.77"/><use href="#g11" x="515.28" y="427.77"/><use href="#g2" x="519.96" y="427.77"/>
<polyline points="530.00,428.00 541.20,428.00" stroke-width="1.3" fill="none"/>
<polyline points="27.00,443.35 34.30,443.35" stroke-width="1.3" fill="none"/>
<polygon class="a" points="34.30,443.35 29.70,441.05 29.70,445.65"/>
<polygon points="34.70,443.35 45.80,438.40 84.20,438.40 84.20,448.30 34.70,448.30" stroke-width="1.4"/>
<use href="#g8" x="42.50" y="438.00"/><use href="#g13" x="47.10" y="438.00"/><use href="#g4" x="51.70" y="438.00"/><use href="#g9" x="56.30" y="438.00"/>
<use href="#g0" x="42.50" y="443.30"/><use href="#g5" x="47.10" y="443.30"/><use href="#g10" x="51.70" y="443.30"/><use href="#g1" x="56.30" y="443.30"/><use href="#g6" x="60.90" y="443.30"/>
<polyline points="84.60,443.35 89.95,443.35" stroke-width="1.3" fill="none"/>
<polygon class="a" points="89.95,443.35 85.35,441.05 85.35,445.65"/>
<rect x="90.45" y="438.40" width="38.60" height="9.90" stroke-width="1.4"/>
<use href="#g11" x="93.37" y="438.38"/><use href="#g2" x="98.05" y="438.38"/><use href="#g7" x="102.73" y="438.38"/><use href="#g12" x="107.41" y="438.38"/><use href="#g3" x="112.09" y="438.38"/><use href="#g9" x="116.77" y="438.38"/><use href="#g0" x="121.45" y="438.38"/>
<use href="#g5" x="105.07" y="443.12"/><use href="#g10" x="109.75" y="443.12"/>
<polyline points="129.45,443.35 134.50,443.35" stroke-width="1.3" fill="none"/>
<polygon class="a" points="134.50,443.35 129.90,441.05 129.90,445.65"/>
<rect x="135.00" y="438.40" width="38.60" height="9.90" stroke-width="1.4"/>
<use href="#g1" x="137.92" y="440.75"/><use href="#g6" x="142.60" y="440.75"/><use href="#g11" x="147.28" y="440.75"/><use href="#g2" x="151.96" y="440.75"/><use href="#g7" x="156.64" y="440.75"/><use href="#g12" x="161.32" y="440.75"/><use href="#g3" x="166.00" y="440.75"/>
<polyline points="174.00,443.35 179.05,443.35" stroke-width="1.3" fill="none"/>
<polygon class="a" points="179.05,443.35 174.45,441.05 174.45,445.65"/>
<rect x="179.55" y="438.40" width="38.60" height="9.90" stroke-width="1.4"/>
<use href="#g8" x="182.47" y="440.75"/><use href="#g13" x="187.15" y="440.75"/><use href="#g4" x="191.83" y="440.75"/><use href="#g10" x="196.51" y="440.75"/><use href="#g1" x="201.19" y="440.75"/><use href="#g6" x="205.87" y="440.75"/><use href="#g11" x="210.55" y="440.75"/>
<polyline points="218.55,443.35 446.70,443.35" stroke-width="1.3" fill="none"/>
<polygon class="a" points="446.70,443.35 442.10,441.05 442.10,445.65"/>
<polygon points="449.50,438.40 482.60,438.40 477.50,448.30 444.40,448.30" stroke-width="1.4"/>
<use href="#g2" x="454.14" y="440.75"/><use href="#g7" x="458.82" y="440.75"/><use href="#g12" x="463.50" y="440.75"/><use href="#g3" x="468.18" y="440.75"/>
<polyline points="480.10,443.35 490.70,443.35" stroke-width="1.3" fill="none"/>
<polygon class="a" points="490.70,443.35 486.10,441.05 486.10,445.65"/>
<rect x="491.20" y="438.40" width="38.80" height="9.90" stroke-width="1.4"/>
<use href="#g8" x="494.22" y="438.38"/><use href="#g13" x="498.90" y="438.38"/><use href="#g4" x="503.58" y="438.38"/><use href="#g9" x="508.26" y="438.38"/><use href="#g0" x="512.94" y="438.38"/><use href="#g5" x="517.62" y="438.38"/><use href="#g11" x="522.30" y="438.38"/>
<use href="#g2" x="496.56" y="443.12"/><use href="#g7" x="501.24" y="443.12"/><use href="#g12" x="505.92" y="443.12"/><use href="#g3" x="510.60" y="443.12"/><use href="#g8" x="515.28" y="443.12"/><use href="#g13" x="519.96" y="443.12"/>
<polyline points="530.00,443.35 541.20,443.35" stroke-width="1.3" fill="none"/>
<polyline points="27.00,464.00 34.30,464.00" stroke-width="1.3" fill="none"/>
<polygon class="a" points="34.30,464.00 29.70,461.70 29.70,466.30"/>
<polygon points="34.70,464.00 45.80,459.05 84.20,459.05 84.20,468.95 34.70,468.95" stroke-width="1.4"/>
<use href="#g4" x="43.50" y="458.65"/><use href="#g9" x="48.10" y="458.65"/>
<use href="#g0" x="43.50" y="463.95"/><use href="#g5" x="48.10" y="463.95"/><use href="#g10" x="52.70" y="463.95"/><use href="#g1" x="57.30" y="463.95"/><use href="#g6" x="61.90" y="463.95"/><use href="#g12" x="66.50" y="463.95"/><use href="#g3" x="71.10" y="463.95"/>
<polyline points="84.60,464.00 89.95,464.00" stroke-width="1.3" fill="none"/>
<polygon class="a" points="89.95,464.00 85.35,461.70 85.35,466.30"/>
<rect x="90.45" y="459.05" width="38.60" height="9.90" stroke-width="1.4"/>
<use href="#g8" x="93.37" y="459.02"/><use href="#g13" x="98.05" y="459.02"/><use href="#g4" x="102.73" y="459.02"/><use href="#g9" x="107.41" y="459.02"/><use href="#g0" x="112.09" y="459.02"/><use href="#g5" x="116.77" y="459.02"/><use href="#g10" x="121.45" y="459.02"/>
<use href="#g1" x="105.07" y="463.77"/><use href="#g6" x="109.75" y="463.77"/>
<polyline points="129.45,464.00 134.50,464.00" stroke-width="1.3" fill="none"/>
<polygon class="a" points="134.50,464.00 129.90,461.70 129.90,466.30"/>
<rect x="135.00" y="459.05" width="38.60" height="9.90" stroke-width="1.4"/>
<use href="#g11" x="137.92" y="459.02"/><use href="#g2" x="142.60" y="459.02"/><use href="#g7" x="147.28" y="459.02"/><use href="#g13" x="151.96" y="459.02"/><use href="#g4" x="156.64" y="459.02"/><use href="#g9" x="161.32" y="459.02"/><use href="#g0" x="166.00" y="459.02"/>
<use href="#g5" x="144.94" y="463.77"/><use href="#g10" x="149.62" y="463.77"/><use href="#g1" x="154.30" y="463.77"/><use href="#g6" x="158.98" y="463.77"/>
<polyline points="174.00,464.00 179.05,464.00" stroke-width="1.3" fill="none"/>
<polygon class="a" points="179.05,464.00 174.45,461.70 174.45,466.30"/>
<rect x="179.55" y="459.05" width="38.60" height="9.90" stroke-width="1.4"/>
<use href="#g11" x="182.47" y="459.02"/><use href="#g2" x="187.15" y="459.02"/><use href="#g7" x="191.83" y="459.02"/><use href="#g12" x="196.51" y="459.02"/><use href="#g3" x="201.19" y="459.02"/><use href="#g8" x="205.87" y="459.02"/><use href="#g0" x="210.55" y="459.02"/>
<use href="#g5" x="189.49" y="463.77"/><use href="#g10" x="194.17" y="463.77"/><use href="#g1" x="198.85" y="463.77"/><use href="#g6" x="203.53" y="463.77"/>
<polyline points="218.55,464.00 223.60,464.00" stroke-width="1.3" fill="none"/>
<polygon class="a" points="223.60,464.00 219.00,461.70 219.00,466.30"/>
<rect x="224.10" y="459.05" width="38.60" height="9.90" stroke-width="1.4"/>
<use href="#g11" x="227.02" y="459.02"/><use href="#g2" x="231.70" y="459.02"/><use href="#g7" x="236.38" y="459.02"/><use href="#g12" x="241.06" y="459.02"/><use href="#g3" x="245.74" y="459.02"/><use href="#g8" x="250.42" y="459.02"/><use href="#g13" x="255.10" y="459.02"/>
<use href="#g4" x="241.06" y="463.77"/>
<polyline points="263.10,464.00 268.15,464.00" stroke-width="1.3" fill="none"/>
<polygon class="a" points="268.15,464.00 263.55,461.70 263.55,466.30"/>
<rect x="268.65" y="459.05" width="38.60" height="9.90" stroke-width="1.4"/>
<use href="#g9" x="271.57" y="459.02"/><use href="#g1" x="276.25" y="459.02"/><use href="#g6" x="280.93" y="459.02"/><use href="#g11" x="285.61" y="459.02"/><use href="#g2" x="290.29" y="459.02"/><use href="#g7" x="294.97" y="459.02"/><use href="#g12" x="299.65" y="459.02"/>
<use href="#g3" x="285.61" y="463.77"/>
<polyline points="307.65,464.00 312.70,464.00" stroke-width="1.3" fill="none"/>
<polygon class="a" points="312.70,464.00 308.10,461.70 308.10,466.30"/>
<rect x="313.20" y="459.05" width="38.60" height="9.90" stroke-width="1.4"/>
<use href="#g8" x="316.12" y="459.02"/><use href="#g13" x="320.80" y="459.02"/><use href="#g4" x="325.48" y="459.02"/><use href="#g9" x="330.16" y="459.02"/><use href="#g0" x="334.84" y="459.02"/><use href="#g5" x="339.52" y="459.02"/><use href="#g10" x="344.20" y="459.02"/>
<use href="#g2" x="323.14" y="463.77"/><use href="#g7" x="327.82" y="463.77"/><use href="#g12" x="332.50" y="463.77"/><use href="#g3" x="337.18" y="463.77"/>
<polyline points="352.20,464.00 357.25,464.00" stroke-width="1.3" fill="none"/>
<polygon class="a" points="357.25,464.00 352.65,461.70 352.65,466.30"/>
<rect x="357.75" y="459.05" width="38.60" height="9.90" stroke-width="1.4"/>
<use href="#g8" x="360.67" y="459.02"/><use href="#g13" x="365.35" y="459.02"/><use href="#g4" x="370.03" y="459.02"/><use href="#g9" x="374.71" y="459.02"/><use href="#g0" x="379.39" y="459.02"/><use href="#g5" x="384.07" y="459.02"/><use href="#g10" x="388.75" y="459.02"/>
<use href="#g1" x="363.01" y="463.77"/><use href="#g6" x="367.69" y="463.77"/><use href="#g11" x="372.37" y="463.77"/><use href="#g3" x="377.05" y="463.77"/><use href="#g8" x="381.73" y="463.77"/><use href="#g13" x="386.41" y="463.77"/>
<polyline points="396.75,464.00 446.70,464.00" stroke-width="1.3" fill="none"/>
<polygon class="a" points="446.70,464.00 442.10,461.70 442.10,466.30"/>
<polygon points="449.50,459.05 482.60,459.05 477.50,468.95 444.40,468.95" stroke-width="1.4"/>
<use href="#g4" x="454.14" y="461.40"/><use href="#g9" x="458.82" y="461.40"/><use href="#g0" x="463.50" y="461.40"/><use href="#g5" x="468.18" y="461.40"/>
<polyline points="480.10,464.00 490.70,464.00" stroke-width="1.3" fill="none"/>
<polygon class="a" points="490.70,464.00 486.10,461.70 486.10,466.30"/>
<rect x="491.20" y="459.05" width="38.80" height="9.90" stroke-width="1.4"/>
<use href="#g10" x="501.24" y="459.02"/><use href="#g1" x="505.92" y="459.02"/><use href="#g6" x="510.60" y="459.02"/><use href="#g11" x="515.28" y="459.02"/>
<use href="#g2" x="496.56" y="463.77"/><use href="#g7" x="501.24" y="463.77"/><use href="#g12" x="505.92" y="463.77"/><use href="#g4" x="510.60" y="463.77"/><use href="#g9" x="515.28" y="463.77"/><use href="#g0" x="519.96" y="463.77"/>
<polyline points="530.00,464.00 585.70,464.00" stroke-width="1.3" fill="none"/>
<polygon class="a" points="585.70,464.00 581.10,461.70 581.10,466.30"/>
<rect x="516.90" y="146.70" width="49.50" height="10.20" rx="5.099999999999997" stroke-width="1.4"/>
<use href="#g5" x="520.59" y="149.40"/><use href="#g10" x="525.27" y="149.40"/><use href="#g1" x="529.95" y="149.40"/><use href="#g6" x="534.63" y="149.40"/><use href="#g11" x="539.31" y="149.40"/><use href="#g2" x="543.99" y="149.40"/><use href="#g7" x="548.67" y="149.40"/><use href="#g12" x="553.35" y="149.40"/><use href="#g3" x="558.03" y="149.40"/>
<rect x="516.90" y="167.90" width="49.50" height="9.20" stroke-width="1.4"/>
<use href="#g8" x="527.61" y="169.90"/><use href="#g13" x="532.29" y="169.90"/><use href="#g5" x="536.97" y="169.90"/><use href="#g10" x="541.65" y="169.90"/><use href="#g1" x="546.33" y="169.90"/><use href="#g6" x="551.01" y="169.90"/>
<polyline points="541.30,159.00 541.30,166.00" stroke-width="1.3" fill="none"/>
<polygon class="a" points="541.30,157.40 539.00,162.00 543.60,162.00"/>
<polygon class="a" points="541.30,167.40 539.00,162.80 543.60,162.80"/>
<polyline points="541.30,181.00 541.30,207.70" stroke-width="2.34" fill="none"/>
<polyline points="541.30,207.30 541.30,233.99" stroke-width="2.23" fill="none"/>
<polyline points="541.30,233.59 541.30,260.28" stroke-width="2.12" fill="none"/>
<polyline points="541.30,259.88 541.30,286.58" stroke-width="2.02" fill="none"/>
<polyline points="541.30,286.18 541.30,312.88" stroke-width="1.91" fill="none"/>
<polyline points="541.30,312.48 541.30,339.17" stroke-width="1.79" fill="none"/>
<polyline points="541.30,338.77 541.30,365.47" stroke-width="1.69" fill="none"/>
<polyline points="541.30,365.07 541.30,391.76" stroke-width="1.58" fill="none"/>
<polyline points="541.30,391.36 541.30,418.06" stroke-width="1.46" fill="none"/>
<polyline points="541.30,417.66 541.30,443.95" stroke-width="1.35" fill="none"/>
<polygon class="a" points="541.30,177.60 538.60,182.60 544.00,182.60"/>
<polyline points="566.80,172.30 575.00,172.30" stroke-width="1.3" fill="none"/>
<polyline points="575.00,171.70 575.00,199.32" stroke-width="2.16" fill="none"/>
<polyline points="575.00,198.92 575.00,226.55" stroke-width="2.07" fill="none"/>
<polyline points="575.00,226.15 575.00,253.78" stroke-width="1.98" fill="none"/>
<polyline points="575.00,253.38 575.00,281.00" stroke-width="1.89" fill="none"/>
<polyline points="575.00,280.60 575.00,308.23" stroke-width="1.8" fill="none"/>
<polyline points="575.00,307.83 575.00,335.45" stroke-width="1.71" fill="none"/>
<polyline points="575.00,335.05 575.00,362.68" stroke-width="1.62" fill="none"/>
<polyline points="575.00,362.28 575.00,389.90" stroke-width="1.53" fill="none"/>
<polyline points="575.00,389.50 575.00,417.12" stroke-width="1.44" fill="none"/>
<polyline points="575.00,416.73 575.00,443.95" stroke-width="1.35" fill="none"/>
<polyline points="641.00,39.30 571.30,39.30 571.30,472.60 764.50,472.60 764.50,39.30" stroke-width="1.2" fill="none"/>
<polyline points="640.00,39.30 765.10,39.30" stroke-width="1.6" fill="none"/>
<g class="b">
<use href="#g11" transform="translate(575.50 32.15) scale(1.12)"/><use href="#g2" transform="translate(581.40 32.15) scale(1.12)"/><use href="#g7" transform="translate(587.30 32.15) scale(1.12)"/><use href="#g12" transform="translate(593.20 32.15) scale(1.12)"/><use href="#g3" transform="translate(599.10 32.15) scale(1.12)"/><use href="#g8" transform="translate(605.00 32.15) scale(1.12)"/><use href="#g13" transform="translate(610.90 32.15) scale(1.12)"/><use href="#g4" transform="translate(616.80 32.15) scale(1.12)"/><use href="#g9" transform="translate(622.70 32.15) scale(1.12)"/><use href="#g0" transform="translate(628.60 32.15) scale(1.12)"/>
</g>
<rect x="585.90" y="213.35" width="50.40" height="9.90" stroke-width="1.4"/>
<use href="#g6" x="587.70" y="213.33"/><use href="#g11" x="592.38" y="213.33"/><use href="#g2" x="597.06" y="213.33"/><use href="#g7" x="601.74" y="213.33"/><use href="#g12" x="606.42" y="213.33"/><use href="#g3" x="611.10" y="213.33"/><use href="#g8" x="615.78" y="213.33"/><use href="#g13" x="620.46" y="213.33"/><use href="#g4" x="625.14" y="213.33"/><use href="#g9" x="629.82" y="213.33"/>
<use href="#g0" x="606.42" y="218.08"/><use href="#g5" x="611.10" y="218.08"/>
<polyline points="636.70,218.30 650.00,218.30" stroke-width="1.3" fill="none"/>
<polyline points="574.80,218.30 585.40,218.30" stroke-width="1.3" fill="none"/>
<polygon class="a" points="585.40,218.30 580.80,216.00 580.80,220.60"/>
<rect x="585.90" y="228.75" width="50.40" height="9.90" stroke-width="1.4"/>
<use href="#g10" x="587.70" y="228.72"/><use href="#g1" x="592.38" y="228.72"/><use href="#g7" x="597.06" y="228.72"/><use href="#g12" x="601.74" y="228.72"/><use href="#g3" x="606.42" y="228.72"/><use href="#g8" x="611.10" y="228.72"/><use href="#g13" x="615.78" y="228.72"/><use href="#g4" x="620.46" y="228.72"/><use href="#g9" x="625.14" y="228.72"/><use href="#g0" x="629.82" y="228.72"/>
<use href="#g5" x="601.74" y="233.47"/><use href="#g10" x="606.42" y="233.47"/><use href="#g1" x="611.10" y="233.47"/><use href="#g6" x="615.78" y="233.47"/>
<polyline points="636.70,233.70 650.00,233.70" stroke-width="1.3" fill="none"/>
<rect x="585.90" y="244.05" width="50.40" height="9.90" stroke-width="1.4"/>
<use href="#g11" x="590.04" y="244.03"/><use href="#g2" x="594.72" y="244.03"/><use href="#g8" x="599.40" y="244.03"/><use href="#g13" x="604.08" y="244.03"/><use href="#g4" x="608.76" y="244.03"/><use href="#g9" x="613.44" y="244.03"/><use href="#g0" x="618.12" y="244.03"/><use href="#g5" x="622.80" y="244.03"/><use href="#g10" x="627.48" y="244.03"/>
<use href="#g1" x="599.40" y="248.78"/><use href="#g6" x="604.08" y="248.78"/><use href="#g11" x="608.76" y="248.78"/><use href="#g2" x="613.44" y="248.78"/><use href="#g7" x="618.12" y="248.78"/>
<polyline points="636.70,249.00 650.00,249.00" stroke-width="1.3" fill="none"/>
<polyline points="574.80,249.00 585.40,249.00" stroke-width="1.3" fill="none"/>
<polygon class="a" points="585.40,249.00 580.80,246.70 580.80,251.30"/>
<rect x="585.90" y="279.85" width="50.40" height="9.90" stroke-width="1.4"/>
<use href="#g12" x="587.70" y="279.82"/><use href="#g3" x="592.38" y="279.82"/><use href="#g9" x="597.06" y="279.82"/><use href="#g0" x="601.74" y="279.82"/><use href="#g5" x="606.42" y="279.82"/><use href="#g10" x="611.10" y="279.82"/><use href="#g1" x="615.78" y="279.82"/><use href="#g6" x="620.46" y="279.82"/><use href="#g11" x="625.14" y="279.82"/><use href="#g2" x="629.82" y="279.82"/>
<use href="#g7" x="604.08" y="284.57"/><use href="#g12" x="608.76" y="284.57"/><use href="#g3" x="613.44" y="284.57"/>
<polyline points="636.70,284.80 650.00,284.80" stroke-width="1.3" fill="none"/>
<polyline points="574.80,284.80 585.40,284.80" stroke-width="1.3" fill="none"/>
<polygon class="a" points="585.40,284.80 580.80,282.50 580.80,287.10"/>
<rect x="585.90" y="315.45" width="50.40" height="9.90" stroke-width="1.4"/>
<use href="#g8" x="587.70" y="315.42"/><use href="#g13" x="592.38" y="315.42"/><use href="#g4" x="597.06" y="315.42"/><use href="#g10" x="601.74" y="315.42"/><use href="#g1" x="606.42" y="315.42"/><use href="#g6" x="611.10" y="315.42"/><use href="#g11" x="615.78" y="315.42"/><use href="#g2" x="620.46" y="315.42"/><use href="#g7" x="625.14" y="315.42"/><use href="#g12" x="629.82" y="315.42"/>
<use href="#g3" x="606.42" y="320.17"/><use href="#g8" x="611.10" y="320.17"/>
<polyline points="636.70,320.40 650.00,320.40" stroke-width="1.3" fill="none"/>
<polyline points="574.80,320.40 585.40,320.40" stroke-width="1.3" fill="none"/>
<polygon class="a" points="585.40,320.40 580.80,318.10 580.80,322.70"/>
<rect x="585.90" y="330.85" width="50.40" height="9.90" stroke-width="1.4"/>
<use href="#g13" x="587.70" y="330.82"/><use href="#g4" x="592.38" y="330.82"/><use href="#g9" x="597.06" y="330.82"/><use href="#g0" x="601.74" y="330.82"/><use href="#g5" x="606.42" y="330.82"/><use href="#g11" x="611.10" y="330.82"/><use href="#g2" x="615.78" y="330.82"/><use href="#g7" x="620.46" y="330.82"/><use href="#g12" x="625.14" y="330.82"/><use href="#g3" x="629.82" y="330.82"/>
<use href="#g8" x="601.74" y="335.57"/><use href="#g13" x="606.42" y="335.57"/><use href="#g4" x="611.10" y="335.57"/><use href="#g9" x="615.78" y="335.57"/>
<polyline points="636.70,335.80 650.00,335.80" stroke-width="1.3" fill="none"/>
<polyline points="574.80,335.80 585.40,335.80" stroke-width="1.3" fill="none"/>
<polygon class="a" points="585.40,335.80 580.80,333.50 580.80,338.10"/>
<rect x="585.90" y="346.20" width="50.40" height="9.90" stroke-width="1.4"/>
<use href="#g0" x="587.70" y="346.17"/><use href="#g5" x="592.38" y="346.17"/><use href="#g10" x="597.06" y="346.17"/><use href="#g1" x="601.74" y="346.17"/><use href="#g6" x="606.42" y="346.17"/><use href="#g12" x="611.10" y="346.17"/><use href="#g3" x="615.78" y="346.17"/><use href="#g8" x="620.46" y="346.17"/><use href="#g13" x="625.14" y="346.17"/><use href="#g4" x="629.82" y="346.17"/>
<use href="#g9" x="601.74" y="350.92"/><use href="#g0" x="606.42" y="350.92"/><use href="#g5" x="611.10" y="350.92"/><use href="#g10" x="615.78" y="350.92"/>
<polyline points="636.70,351.15 650.00,351.15" stroke-width="1.3" fill="none"/>
<polyline points="574.80,351.15 585.40,351.15" stroke-width="1.3" fill="none"/>
<polygon class="a" points="585.40,351.15 580.80,348.85 580.80,353.45"/>
<rect x="585.90" y="361.55" width="50.40" height="9.90" stroke-width="1.4"/>
<use href="#g1" x="587.70" y="361.52"/><use href="#g6" x="592.38" y="361.52"/><use href="#g11" x="597.06" y="361.52"/><use href="#g2" x="601.74" y="361.52"/><use href="#g7" x="606.42" y="361.52"/><use href="#g13" x="611.10" y="361.52"/><use href="#g4" x="615.78" y="361.52"/><use href="#g9" x="620.46" y="361.52"/><use href="#g0" x="625.14" y="361.52"/><use href="#g5" x="629.82" y="361.52"/>
<use href="#g10" x="608.76" y="366.27"/>
<polyline points="636.70,366.50 650.00,366.50" stroke-width="1.3" fill="none"/>
<rect x="585.90" y="376.95" width="50.40" height="9.90" stroke-width="1.4"/>
<use href="#g1" x="590.04" y="376.92"/><use href="#g6" x="594.72" y="376.92"/><use href="#g11" x="599.40" y="376.92"/><use href="#g2" x="604.08" y="376.92"/><use href="#g7" x="608.76" y="376.92"/><use href="#g12" x="613.44" y="376.92"/><use href="#g3" x="618.12" y="376.92"/><use href="#g8" x="622.80" y="376.92"/><use href="#g0" x="627.48" y="376.92"/>
<use href="#g5" x="604.08" y="381.67"/><use href="#g10" x="608.76" y="381.67"/><use href="#g1" x="613.44" y="381.67"/>
<polyline points="636.70,381.90 650.00,381.90" stroke-width="1.3" fill="none"/>
<polyline points="574.80,381.90 585.40,381.90" stroke-width="1.3" fill="none"/>
<polygon class="a" points="585.40,381.90 580.80,379.60 580.80,384.20"/>
<rect x="585.90" y="392.30" width="50.40" height="9.90" stroke-width="1.4"/>
<use href="#g6" x="587.70" y="392.27"/><use href="#g11" x="592.38" y="392.27"/><use href="#g2" x="597.06" y="392.27"/><use href="#g7" x="601.74" y="392.27"/><use href="#g12" x="606.42" y="392.27"/><use href="#g3" x="611.10" y="392.27"/><use href="#g8" x="615.78" y="392.27"/><use href="#g13" x="620.46" y="392.27"/><use href="#g4" x="625.14" y="392.27"/><use href="#g9" x="629.82" y="392.27"/>
<use href="#g1" x="599.40" y="397.02"/><use href="#g6" x="604.08" y="397.02"/><use href="#g11" x="608.76" y="397.02"/><use href="#g2" x="613.44" y="397.02"/><use href="#g7" x="618.12" y="397.02"/>
<polyline points="636.70,397.25 650.00,397.25" stroke-width="1.3" fill="none"/>
<polyline points="574.80,397.25 585.40,397.25" stroke-width="1.3" fill="none"/>
<polygon class="a" points="585.40,397.25 580.80,394.95 580.80,399.55"/>
<rect x="585.90" y="407.65" width="50.40" height="9.90" stroke-width="1.4"/>
<use href="#g12" x="587.70" y="407.62"/><use href="#g3" x="592.38" y="407.62"/><use href="#g8" x="597.06" y="407.62"/><use href="#g13" x="601.74" y="407.62"/><use href="#g4" x="606.42" y="407.62"/><use href="#g9" x="611.10" y="407.62"/><use href="#g0" x="615.78" y="407.62"/><use href="#g5" x="620.46" y="407.62"/><use href="#g10" x="625.14" y="407.62"/><use href="#g2" x="629.82" y="407.62"/>
<use href="#g7" x="604.08" y="412.38"/><use href="#g12" x="608.76" y="412.38"/><use href="#g3" x="613.44" y="412.38"/>
<polyline points="636.70,412.60 650.00,412.60" stroke-width="1.3" fill="none"/>
<polyline points="574.80,412.60 585.40,412.60" stroke-width="1.3" fill="none"/>
<polygon class="a" points="585.40,412.60 580.80,410.30 580.80,414.90"/>
<rect x="585.90" y="423.05" width="50.40" height="9.90" stroke-width="1.4"/>
<use href="#g8" x="587.70" y="423.02"/><use href="#g13" x="592.38" y="423.02"/><use href="#g4" x="597.06" y="423.02"/><use href="#g9" x="601.74" y="423.02"/><use href="#g0" x="606.42" y="423.02"/><use href="#g5" x="611.10" y="423.02"/><use href="#g10" x="615.78" y="423.02"/><use href="#g1" x="620.46" y="423.02"/><use href="#g6" x="625.14" y="423.02"/><use href="#g11" x="629.82" y="423.02"/>
<use href="#g3" x="606.42" y="427.77"/><use href="#g8" x="611.10" y="427.77"/>
<polyline points="636.70,428.00 650.00,428.00" stroke-width="1.3" fill="none"/>
<polyline points="574.80,428.00 585.40,428.00" stroke-width="1.3" fill="none"/>
<polygon class="a" points="585.40,428.00 580.80,425.70 580.80,430.30"/>
<rect x="585.90" y="438.40" width="50.40" height="9.90" stroke-width="1.4"/>
<use href="#g13" x="587.70" y="438.38"/><use href="#g4" x="592.38" y="438.38"/><use href="#g9" x="597.06" y="438.38"/><use href="#g0" x="601.74" y="438.38"/><use href="#g5" x="606.42" y="438.38"/><use href="#g10" x="611.10" y="438.38"/><use href="#g1" x="615.78" y="438.38"/><use href="#g6" x="620.46" y="438.38"/><use href="#g11" x="625.14" y="438.38"/><use href="#g2" x="629.82" y="438.38"/>
<use href="#g7" x="606.42" y="443.12"/><use href="#g12" x="611.10" y="443.12"/>
<polyline points="636.70,443.35 650.00,443.35" stroke-width="1.3" fill="none"/>
<polyline points="574.80,443.35 585.40,443.35" stroke-width="1.3" fill="none"/>
<polygon class="a" points="585.40,443.35 580.80,441.05 580.80,445.65"/>
<rect x="585.90" y="459.05" width="50.40" height="9.90" stroke-width="1.4"/>
<use href="#g4" x="590.04" y="461.40"/><use href="#g9" x="594.72" y="461.40"/><use href="#g0" x="599.40" y="461.40"/><use href="#g5" x="604.08" y="461.40"/><use href="#g10" x="608.76" y="461.40"/><use href="#g1" x="613.44" y="461.40"/><use href="#g6" x="618.12" y="461.40"/><use href="#g11" x="622.80" y="461.40"/><use href="#g2" x="627.48" y="461.40"/>
<polyline points="636.70,464.00 719.30,464.00 719.30,79.60" stroke-width="1.3" fill="none"/>
<polygon class="a" points="719.30,79.60 717.00,84.20 721.60,84.20"/>
<polyline points="650.00,114.00 650.00,147.40" stroke-width="2.25" fill="none"/>
<polyline points="650.00,147.00 650.00,180.39" stroke-width="2.15" fill="none"/>
<polyline points="650.00,179.99 650.00,213.39" stroke-width="2.05" fill="none"/>
<polyline points="650.00,212.99 650.00,246.38" stroke-width="1.95" fill="none"/>
<polyline points="650.00,245.98 650.00,279.38" stroke-width="1.85" fill="none"/>
<polyline points="650.00,278.98 650.00,312.37" stroke-width="1.75" fill="none"/>
<polyline points="650.00,311.97 650.00,345.37" stroke-width="1.65" fill="none"/>
<polyline points="650.00,344.97 650.00,378.36" stroke-width="1.55" fill="none"/>
<polyline points="650.00,377.96 650.00,411.36" stroke-width="1.45" fill="none"/>
<polyline points="650.00,410.96 650.00,443.95" stroke-width="1.35" fill="none"/>
<polygon class="a" points="650.00,110.80 647.30,115.80 652.70,115.80"/>
<rect x="630.65" y="99.95" width="38.90" height="10.30" stroke-width="1.3"/>
<use href="#g7" x="633.72" y="102.50"/><use href="#g12" x="638.40" y="102.50"/><use href="#g3" x="643.08" y="102.50"/><use href="#g8" x="647.76" y="102.50"/><use href="#g13" x="652.44" y="102.50"/><use href="#g5" x="657.12" y="102.50"/><use href="#g10" x="661.80" y="102.50"/>
<rect x="630.65" y="79.35" width="38.90" height="10.30" stroke-width="1.3"/>
<use href="#g1" x="633.72" y="81.90"/><use href="#g6" x="638.40" y="81.90"/><use href="#g11" x="643.08" y="81.90"/><use href="#g2" x="647.76" y="81.90"/><use href="#g7" x="652.44" y="81.90"/><use href="#g12" x="657.12" y="81.90"/><use href="#g3" x="661.80" y="81.90"/>
<rect x="630.65" y="59.55" width="38.90" height="10.30" stroke-width="1.3"/>
<use href="#g8" x="633.72" y="62.10"/><use href="#g13" x="638.40" y="62.10"/><use href="#g4" x="643.08" y="62.10"/><use href="#g9" x="647.76" y="62.10"/><use href="#g0" x="652.44" y="62.10"/><use href="#g6" x="657.12" y="62.10"/><use href="#g11" x="661.80" y="62.10"/>
<polyline points="650.00,99.60 650.00,90.10" stroke-width="1.3" fill="none"/>
<polygon class="a" points="650.00,90.10 647.70,94.70 652.30,94.70"/>
<polyline points="650.00,79.00 650.00,70.30" stroke-width="1.3" fill="none"/>
<polygon class="a" points="650.00,70.30 647.70,74.90 652.30,74.90"/>
<polyline points="670.00,64.80 686.00,64.80" stroke-width="1.3" fill="none"/>
<polygon class="a" points="686.00,64.80 681.40,62.50 681.40,67.10"/>
<polygon points="694.00,50.70 760.80,50.70 745.20,79.30 678.20,79.30" stroke-width="1.25"/>
<use href="#g2" x="698.00" y="50.90"/><use href="#g7" x="702.68" y="50.90"/><use href="#g12" x="707.36" y="50.90"/>
<path class="d" d="M698.90 57.10V60.50M698.20 57.90L698.90 57.10"/><path class="d" d="M700.30 60.30h0.7"/>
<use href="#g3" x="705.80" y="56.70"/><use href="#g8" x="710.35" y="56.70"/><use href="#g13" x="714.90" y="56.70"/><use href="#g4" x="719.45" y="56.70"/><use href="#g9" x="724.00" y="56.70"/><use href="#g0" x="728.55" y="56.70"/><use href="#g5" x="733.10" y="56.70"/>
<path class="d" d="M698.90 62.65V66.05M698.20 63.45L698.90 62.65"/><path class="d" d="M700.30 65.85h0.7"/>
<use href="#g10" x="705.80" y="62.25"/><use href="#g1" x="710.35" y="62.25"/><use href="#g7" x="714.90" y="62.25"/><use href="#g12" x="719.45" y="62.25"/><use href="#g3" x="724.00" y="62.25"/><use href="#g8" x="728.55" y="62.25"/><use href="#g13" x="733.10" y="62.25"/>
<path class="d" d="M698.90 68.20V71.60M698.20 69.00L698.90 68.20"/><path class="d" d="M700.30 71.40h0.7"/>
<use href="#g4" x="705.80" y="67.80"/><use href="#g9" x="710.35" y="67.80"/><use href="#g0" x="714.90" y="67.80"/><use href="#g5" x="719.45" y="67.80"/>
<path class="d" d="M698.90 73.75V77.15M698.20 74.55L698.90 73.75"/><path class="d" d="M700.30 76.95h0.7"/>
<use href="#g10" x="705.80" y="73.35"/><use href="#g1" x="710.35" y="73.35"/><use href="#g6" x="714.90" y="73.35"/><use href="#g11" x="719.45" y="73.35"/>
<polyline points="752.80,64.80 807.00,64.80 807.00,77.60" stroke-width="1.3" fill="none"/>
<polygon class="a" points="807.00,77.60 804.70,73.00 809.30,73.00"/>
<rect x="774.95" y="78.15" width="62.10" height="93.80" rx="17" ry="47" stroke-width="1.3"/>
<use href="#g2" x="785.50" y="82.90"/><use href="#g8" x="790.00" y="82.90"/><use href="#g13" x="794.50" y="82.90"/><use href="#g4" x="799.00" y="82.90"/><use href="#g9" x="803.50" y="82.90"/>
<path class="d" d="M786.40 88.98V92.38M785.70 89.78L786.40 88.98"/><path class="d" d="M787.80 92.18h0.7"/>
<use href="#g0" x="792.50" y="88.58"/><use href="#g5" x="797.05" y="88.58"/>
<path class="d" d="M786.40 94.66V98.06M785.70 95.46L786.40 94.66"/><path class="d" d="M787.80 97.86h0.7"/>
<use href="#g10" x="792.50" y="94.26"/><use href="#g1" x="797.05" y="94.26"/><use href="#g6" x="801.60" y="94.26"/>
<path class="d" d="M786.40 100.34V103.74M785.70 101.14L786.40 100.34"/><path class="d" d="M787.80 103.54h0.7"/>
<use href="#g11" x="792.50" y="99.94"/><use href="#g2" x="797.05" y="99.94"/><use href="#g7" x="801.60" y="99.94"/>
<path class="d" d="M786.40 106.02V109.42M785.70 106.82L786.40 106.02"/><path class="d" d="M787.80 109.22h0.7"/>
<use href="#g12" x="792.50" y="105.62"/><use href="#g3" x="797.05" y="105.62"/>
<path class="d" d="M786.40 111.70V115.10M785.70 112.50L786.40 111.70"/><path class="d" d="M787.80 114.90h0.7"/>
<use href="#g9" x="792.50" y="111.30"/><use href="#g0" x="797.05" y="111.30"/><use href="#g5" x="801.60" y="111.30"/><use href="#g10" x="806.15" y="111.30"/><use href="#g1" x="810.70" y="111.30"/>
<path class="d" d="M786.40 117.38V120.78M785.70 118.18L786.40 117.38"/><path class="d" d="M787.80 120.58h0.7"/>
<use href="#g6" x="792.50" y="116.98"/><use href="#g11" x="797.05" y="116.98"/><use href="#g2" x="801.60" y="116.98"/><use href="#g7" x="806.15" y="116.98"/><use href="#g12" x="810.70" y="116.98"/><use href="#g3" x="815.25" y="116.98"/><use href="#g8" x="819.80" y="116.98"/><use href="#g13" x="824.35" y="116.98"/><use href="#g4" x="828.90" y="116.98"/>
<path class="d" d="M786.40 123.06V126.46M785.70 123.86L786.40 123.06"/><path class="d" d="M787.80 126.26h0.7"/>
<use href="#g10" x="792.50" y="122.66"/><use href="#g1" x="797.05" y="122.66"/><use href="#g6" x="801.60" y="122.66"/><use href="#g11" x="806.15" y="122.66"/><use href="#g2" x="810.70" y="122.66"/><use href="#g7" x="815.25" y="122.66"/>
<path class="d" d="M786.40 128.74V132.14M785.70 129.54L786.40 128.74"/><path class="d" d="M787.80 131.94h0.7"/>
<use href="#g12" x="792.50" y="128.34"/><use href="#g3" x="797.05" y="128.34"/>
<path class="d" d="M786.40 134.42V137.82M785.70 135.22L786.40 134.42"/><path class="d" d="M787.80 137.62h0.7"/>
<use href="#g8" x="792.50" y="134.02"/><use href="#g13" x="797.05" y="134.02"/><use href="#g4" x="801.60" y="134.02"/><use href="#g9" x="806.15" y="134.02"/><use href="#g0" x="810.70" y="134.02"/><use href="#g5" x="815.25" y="134.02"/><use href="#g11" x="819.80" y="134.02"/><use href="#g2" x="824.35" y="134.02"/>
<path class="d" d="M786.40 140.10V143.50M785.70 140.90L786.40 140.10"/><path class="d" d="M788.70 140.10V143.50M788.00 140.90L788.70 140.10"/><path class="d" d="M790.10 143.30h0.7"/>
<use href="#g7" x="794.80" y="139.70"/><use href="#g12" x="799.25" y="139.70"/><use href="#g3" x="803.70" y="139.70"/><use href="#g8" x="808.15" y="139.70"/><use href="#g13" x="812.60" y="139.70"/><use href="#g4" x="817.05" y="139.70"/><use href="#g9" x="821.50" y="139.70"/><use href="#g0" x="825.95" y="139.70"/>
<path class="d" d="M786.40 145.78V149.18M785.70 146.58L786.40 145.78"/><path class="d" d="M788.70 145.78V149.18M788.00 146.58L788.70 145.78"/><path class="d" d="M790.10 148.98h0.7"/>
<use href="#g5" x="794.80" y="145.38"/><use href="#g10" x="799.25" y="145.38"/><use href="#g1" x="803.70" y="145.38"/><use href="#g6" x="808.15" y="145.38"/><use href="#g12" x="812.60" y="145.38"/><use href="#g3" x="817.05" y="145.38"/><use href="#g8" x="821.50" y="145.38"/><use href="#g13" x="825.95" y="145.38"/>
<path class="d" d="M786.40 151.46V154.86M785.70 152.26L786.40 151.46"/><path class="d" d="M788.70 151.46V154.86M788.00 152.26L788.70 151.46"/><path class="d" d="M790.10 154.66h0.7"/>
<use href="#g4" x="794.80" y="151.06"/><use href="#g9" x="799.25" y="151.06"/><use href="#g0" x="803.70" y="151.06"/><use href="#g5" x="808.15" y="151.06"/>
<path class="d" d="M786.40 157.14V160.54M785.70 157.94L786.40 157.14"/><path class="d" d="M788.70 157.14V160.54M788.00 157.94L788.70 157.14"/><path class="d" d="M790.10 160.34h0.7"/>
<use href="#g10" x="794.80" y="156.74"/><use href="#g1" x="799.25" y="156.74"/><use href="#g6" x="803.70" y="156.74"/><use href="#g11" x="808.15" y="156.74"/><use href="#g2" x="812.60" y="156.74"/><use href="#g7" x="817.05" y="156.74"/><use href="#g13" x="821.50" y="156.74"/><use href="#g4" x="825.95" y="156.74"/>
<use href="#g9" x="785.50" y="162.42"/><use href="#g0" x="790.20" y="162.42"/><use href="#g5" x="794.90" y="162.42"/><use href="#g10" x="799.60" y="162.42"/>
<rect x="843.20" y="143.70" width="48.70" height="28.20" rx="14.099999999999998" stroke-width="1.4"/>
<use href="#g1" x="850.50" y="145.50"/><use href="#g6" x="854.90" y="145.50"/><use href="#g11" x="859.30" y="145.50"/><use href="#g2" x="863.70" y="145.50"/><use href="#g7" x="868.10" y="145.50"/>
<path class="d" d="M851.40 152.05V155.45M850.70 152.85L851.40 152.05"/><path class="d" d="M852.80 155.25h0.7"/>
<use href="#g12" x="857.60" y="151.65"/><use href="#g3" x="862.20" y="151.65"/><use href="#g8" x="866.80" y="151.65"/><use href="#g0" x="871.40" y="151.65"/><use href="#g5" x="876.00" y="151.65"/><use href="#g10" x="880.60" y="151.65"/>
<path class="d" d="M851.40 158.20V161.60M850.70 159.00L851.40 158.20"/><path class="d" d="M852.80 161.40h0.7"/>
<use href="#g1" x="857.60" y="157.80"/><use href="#g6" x="862.20" y="157.80"/><use href="#g11" x="866.80" y="157.80"/><use href="#g2" x="871.40" y="157.80"/>
<path class="d" d="M851.40 164.35V167.75M850.70 165.15L851.40 164.35"/><path class="d" d="M852.80 167.55h0.7"/>
<use href="#g7" x="857.60" y="163.95"/><use href="#g12" x="862.20" y="163.95"/><use href="#g3" x="866.80" y="163.95"/><use href="#g8" x="871.40" y="163.95"/><use href="#g13" x="876.00" y="163.95"/>
<polyline points="806.80,172.30 806.80,182.70" stroke-width="1.3" fill="none"/>
<polygon class="a" points="806.80,182.70 804.50,178.10 809.10,178.10"/>
<rect x="785.08" y="183.07" width="43.95" height="8.95" stroke-width="1.15"/>
<use href="#g4" x="795.35" y="184.95"/><use href="#g9" x="800.03" y="184.95"/><use href="#g1" x="804.71" y="184.95"/><use href="#g6" x="809.39" y="184.95"/><use href="#g11" x="814.07" y="184.95"/>
<polyline points="866.80,172.30 866.80,187.50 829.80,187.50" stroke-width="1.3" fill="none"/>
<polygon class="a" points="829.80,187.50 834.40,185.20 834.40,189.80"/>
<polyline points="806.80,192.30 806.80,205.70" stroke-width="1.3" fill="none"/>
<polygon class="a" points="806.80,205.70 804.50,201.10 809.10,201.10"/>
<rect x="785.08" y="206.07" width="43.95" height="9.35" stroke-width="1.15"/>
<use href="#g2" x="802.37" y="208.15"/><use href="#g7" x="807.05" y="208.15"/>
<use href="#g12" x="777.30" y="374.20"/><use href="#g3" x="781.95" y="374.20"/><use href="#g8" x="786.60" y="374.20"/><use href="#g13" x="791.25" y="374.20"/>
<use href="#g4" x="777.30" y="389.70"/><use href="#g9" x="781.95" y="389.70"/><use href="#g0" x="786.60" y="389.70"/><use href="#g5" x="791.25" y="389.70"/>
<use href="#g10" x="777.30" y="404.90"/><use href="#g2" x="781.95" y="404.90"/><use href="#g7" x="786.60" y="404.90"/><use href="#g12" x="791.25" y="404.90"/>
<use href="#g3" x="777.30" y="420.10"/><use href="#g8" x="781.95" y="420.10"/><use href="#g13" x="786.60" y="420.10"/><use href="#g4" x="791.25" y="420.10"/>
<polygon points="806.85,376.60 817.60,372.05 856.25,372.05 856.25,381.55 806.85,381.55" stroke-width="1.1"/>
<rect x="808.05" y="387.35" width="38.10" height="9.30" stroke-width="1.1"/>
<polygon points="812.80,402.85 856.60,402.85 851.00,412.15 807.80,412.15" stroke-width="1.1"/>
<rect x="807.65" y="417.95" width="38.50" height="9.50" rx="4.8" stroke-width="1.1"/>
</g>
</svg>
</body></html>
